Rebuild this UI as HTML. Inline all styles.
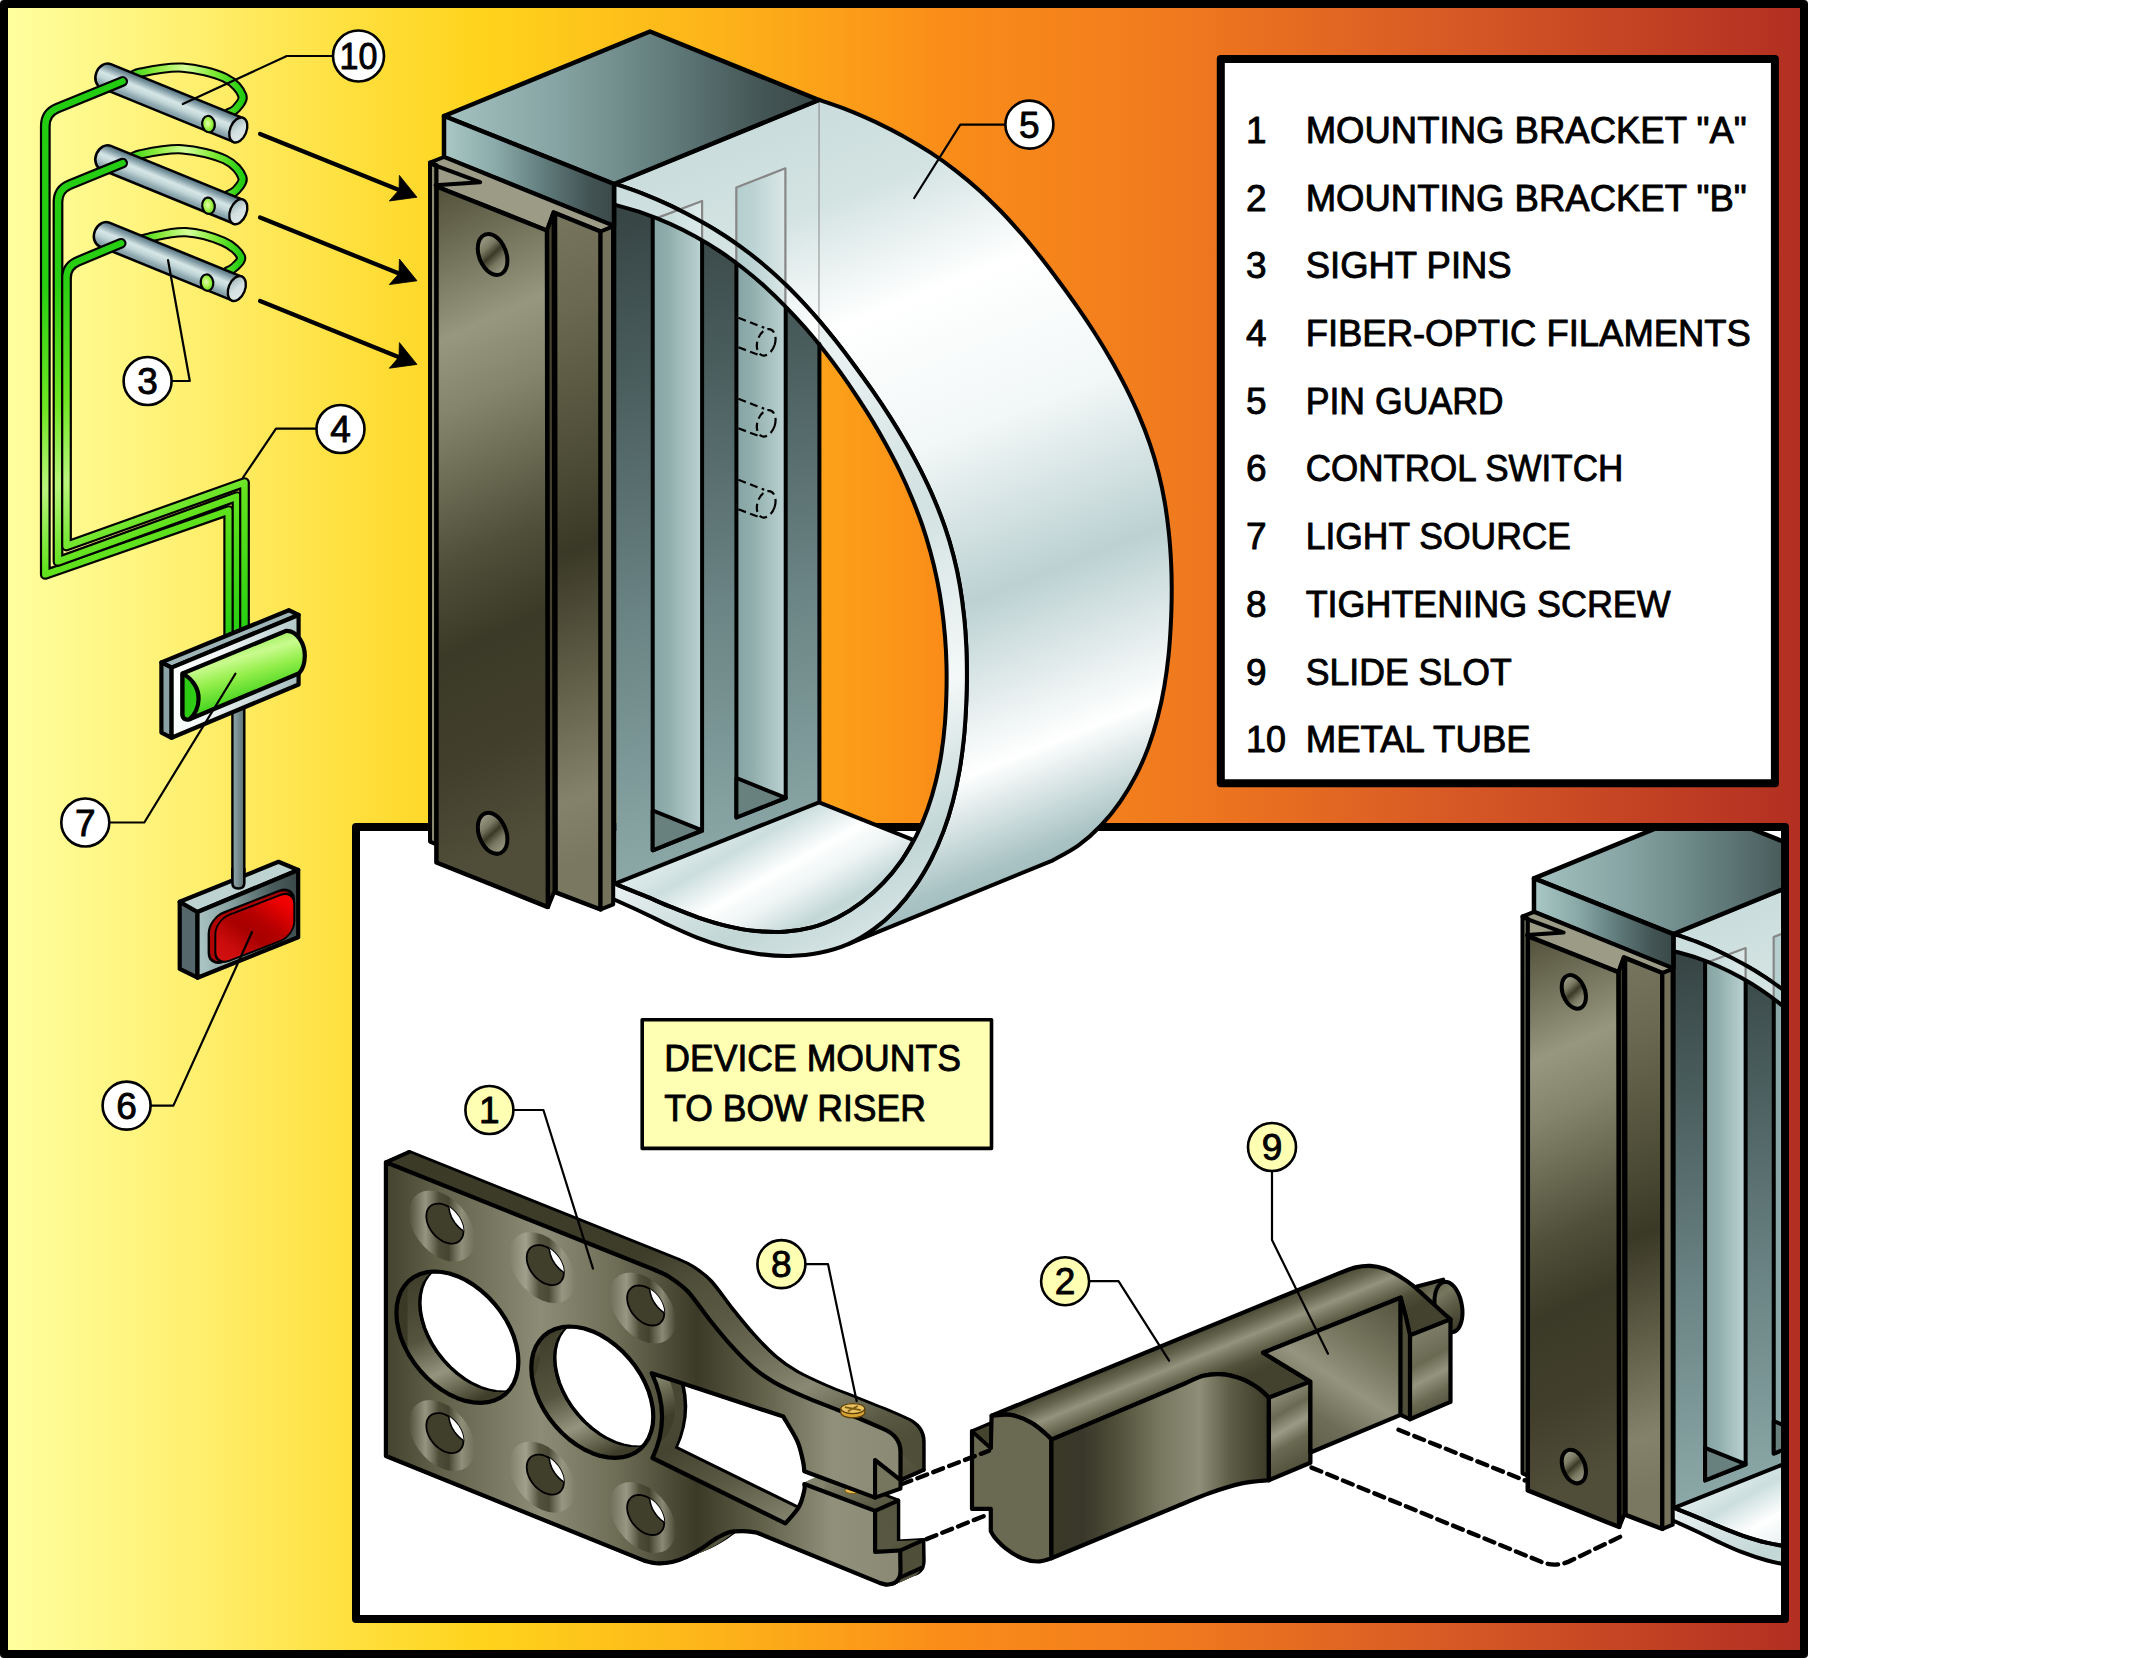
<!DOCTYPE html>
<html><head><meta charset="utf-8"><title>Bow sight illustration</title>
<style>
html,body{margin:0;padding:0;background:#fff;}
body{width:2134px;height:1659px;overflow:hidden;}
svg{display:block;position:absolute;left:0;top:0;}
#asm *{vector-effect:non-scaling-stroke;}
text{font-family:"Liberation Sans",sans-serif;fill:#000;stroke:#000;stroke-width:0.9px;stroke-linejoin:round;}
</style></head><body>
<svg width="2134" height="1659" viewBox="0 0 2134 1659">
<defs>
<linearGradient id="bg" x1="8" y1="0" x2="1800" y2="0" gradientUnits="userSpaceOnUse" ><stop offset="0" stop-color="#FFFF9F"/><stop offset="0.1" stop-color="#FFF071"/><stop offset="0.19" stop-color="#FFE03E"/><stop offset="0.265" stop-color="#FFD31C"/><stop offset="0.4" stop-color="#FDB219"/><stop offset="0.52" stop-color="#FA8D18"/><stop offset="0.65" stop-color="#F07A1E"/><stop offset="0.8" stop-color="#D85A25"/><stop offset="1" stop-color="#B22F22"/></linearGradient>
<linearGradient id="gTube" x1="0" y1="-13" x2="0" y2="13" gradientUnits="userSpaceOnUse" ><stop offset="0" stop-color="#4E6976"/><stop offset="0.12" stop-color="#6F8C97"/><stop offset="0.42" stop-color="#D6E6E6"/><stop offset="0.6" stop-color="#C3D7D8"/><stop offset="0.85" stop-color="#8BA6AE"/><stop offset="1" stop-color="#7A96A0"/></linearGradient>
<linearGradient id="gTubeEnd" x1="0" y1="0" x2="1" y2="1" ><stop offset="0" stop-color="#8FA7AC"/><stop offset="0.5" stop-color="#D3E0E0"/><stop offset="1" stop-color="#E4ECEB"/></linearGradient>
<radialGradient id="gDot" cx="0.45" cy="0.45" r="0.6"><stop offset="0" stop-color="#E4FFB0"/><stop offset="0.5" stop-color="#A6F24A"/><stop offset="1" stop-color="#4FD81C"/></radialGradient>
<linearGradient id="gLoop" x1="0" y1="0" x2="1" y2="0" ><stop offset="0" stop-color="#2FD015"/><stop offset="0.25" stop-color="#8CEB3C"/><stop offset="0.5" stop-color="#D5FF9A"/><stop offset="0.75" stop-color="#7FE934"/><stop offset="1" stop-color="#22CC11"/></linearGradient>
<linearGradient id="gFib" x1="40" y1="100" x2="250" y2="640" gradientUnits="userSpaceOnUse" ><stop offset="0" stop-color="#22CC11"/><stop offset="0.3" stop-color="#27CE12"/><stop offset="0.5" stop-color="#6FE622"/><stop offset="0.63" stop-color="#B9F57C"/><stop offset="0.76" stop-color="#62E21D"/><stop offset="1" stop-color="#22CC11"/></linearGradient>
<linearGradient id="gCyl" x1="0" y1="0" x2="0.4" y2="1" ><stop offset="0" stop-color="#3CD21C"/><stop offset="0.18" stop-color="#7FE838"/><stop offset="0.42" stop-color="#C9FB8E"/><stop offset="0.6" stop-color="#93EE4A"/><stop offset="0.85" stop-color="#45D41F"/><stop offset="1" stop-color="#2BCB14"/></linearGradient>
<linearGradient id="gPlate" x1="172" y1="667" x2="300" y2="700" gradientUnits="userSpaceOnUse" ><stop offset="0" stop-color="#FFFFFF"/><stop offset="0.35" stop-color="#F1F6F6"/><stop offset="0.7" stop-color="#C5D6D7"/><stop offset="1" stop-color="#9FB7B9"/></linearGradient>
<linearGradient id="gRod" x1="232" y1="0" x2="245" y2="0" gradientUnits="userSpaceOnUse" ><stop offset="0" stop-color="#93A7AA"/><stop offset="0.4" stop-color="#7D9396"/><stop offset="1" stop-color="#566A6C"/></linearGradient>
<linearGradient id="gSwF" x1="197" y1="912" x2="298" y2="900" gradientUnits="userSpaceOnUse" ><stop offset="0" stop-color="#A9C3C2"/><stop offset="0.35" stop-color="#84A09F"/><stop offset="0.75" stop-color="#4C5E5E"/><stop offset="1" stop-color="#3B4949"/></linearGradient>
<linearGradient id="gRed" x1="8" y1="62" x2="84" y2="-6" gradientUnits="userSpaceOnUse" ><stop offset="0" stop-color="#D81414"/><stop offset="0.25" stop-color="#CC0C0C"/><stop offset="0.45" stop-color="#A80000"/><stop offset="0.58" stop-color="#B40000"/><stop offset="0.8" stop-color="#F00202"/><stop offset="1" stop-color="#FF0606"/></linearGradient>
<linearGradient id="gOuter" x1="614" y1="184" x2="910" y2="928" gradientUnits="userSpaceOnUse" ><stop offset="0" stop-color="#CADDDC"/><stop offset="0.12" stop-color="#D3E3E2"/><stop offset="0.27" stop-color="#FFFFFF"/><stop offset="0.45" stop-color="#F2F7F7"/><stop offset="0.65" stop-color="#BCD1D2"/><stop offset="0.85" stop-color="#FFFFFF"/><stop offset="0.97" stop-color="#A9C3C4"/><stop offset="1" stop-color="#A2BDBE"/></linearGradient>
<linearGradient id="gRim" x1="614" y1="184" x2="1004.6" y2="939.4" gradientUnits="userSpaceOnUse" ><stop offset="0" stop-color="#D9E7E6"/><stop offset="0.3" stop-color="#E9F1F1"/><stop offset="0.5" stop-color="#D2E1E1"/><stop offset="0.7" stop-color="#F4F8F8"/><stop offset="0.85" stop-color="#C2D6D6"/><stop offset="1" stop-color="#E9F1F1"/></linearGradient>
<linearGradient id="gFloor" x1="748.5" y1="807" x2="826.9" y2="946.2" gradientUnits="userSpaceOnUse" ><stop offset="0" stop-color="#E1ECEC"/><stop offset="0.2" stop-color="#CCDEDE"/><stop offset="0.44" stop-color="#FFFFFF"/><stop offset="0.6" stop-color="#EEF4F4"/><stop offset="0.81" stop-color="#C3D7D7"/><stop offset="1" stop-color="#D7E4E4"/></linearGradient>
<linearGradient id="gFace" x1="640" y1="200" x2="760" y2="880" gradientUnits="userSpaceOnUse" ><stop offset="0" stop-color="#364443"/><stop offset="0.25" stop-color="#4A5D5D"/><stop offset="0.6" stop-color="#6B8485"/><stop offset="1" stop-color="#8EABAA"/></linearGradient>
<linearGradient id="gSlot1" x1="652.7" y1="0" x2="702.1" y2="0" gradientUnits="userSpaceOnUse" ><stop offset="0" stop-color="#86A4A4"/><stop offset="0.3" stop-color="#8FADAC"/><stop offset="1" stop-color="#BCD3D2"/></linearGradient>
<linearGradient id="gSlot2" x1="736.4" y1="0" x2="785.7" y2="0" gradientUnits="userSpaceOnUse" ><stop offset="0" stop-color="#86A4A4"/><stop offset="0.3" stop-color="#8FADAC"/><stop offset="1" stop-color="#BCD3D2"/></linearGradient>
<linearGradient id="gGhost2" x1="736.4" y1="0" x2="785.7" y2="0" gradientUnits="userSpaceOnUse" ><stop offset="0" stop-color="#B4CECE"/><stop offset="0.3" stop-color="#BAD2D2"/><stop offset="1" stop-color="#DBE8E7"/></linearGradient>
<linearGradient id="gTop" x1="444" y1="0" x2="819" y2="0" gradientUnits="userSpaceOnUse" ><stop offset="0" stop-color="#A3C2C0"/><stop offset="0.3" stop-color="#86A4A3"/><stop offset="0.6" stop-color="#617B7B"/><stop offset="0.85" stop-color="#445555"/><stop offset="1" stop-color="#3A4948"/></linearGradient>
<linearGradient id="gSlab" x1="444" y1="0" x2="614" y2="0" gradientUnits="userSpaceOnUse" ><stop offset="0" stop-color="#A9C8C6"/><stop offset="0.3" stop-color="#8BABAA"/><stop offset="0.6" stop-color="#5F7A7B"/><stop offset="0.85" stop-color="#435454"/><stop offset="1" stop-color="#3A4948"/></linearGradient>
<linearGradient id="gBrFace" x1="440" y1="190" x2="700" y2="760" gradientUnits="userSpaceOnUse" ><stop offset="0" stop-color="#55533B"/><stop offset="0.08" stop-color="#6B6A53"/><stop offset="0.22" stop-color="#97977F"/><stop offset="0.33" stop-color="#84836B"/><stop offset="0.55" stop-color="#504F39"/><stop offset="0.68" stop-color="#3B3A28"/><stop offset="0.84" stop-color="#413F2C"/><stop offset="1" stop-color="#504E38"/></linearGradient>
<linearGradient id="gRail" x1="556" y1="215" x2="760" y2="800" gradientUnits="userSpaceOnUse" ><stop offset="0" stop-color="#77755E"/><stop offset="0.15" stop-color="#6A6850"/><stop offset="0.4" stop-color="#4B4A34"/><stop offset="0.52" stop-color="#3A3927"/><stop offset="0.7" stop-color="#5D5B44"/><stop offset="0.9" stop-color="#84826B"/><stop offset="1" stop-color="#7A7861"/></linearGradient>
<linearGradient id="gHole" x1="0" y1="0" x2="1" y2="1" ><stop offset="0" stop-color="#B9B9A6"/><stop offset="0.35" stop-color="#7A7962"/><stop offset="0.5" stop-color="#3B3A28"/><stop offset="0.65" stop-color="#77765F"/><stop offset="1" stop-color="#B5B5A1"/></linearGradient>
<clipPath id="cFace"><path d="M614.3,204.7 C619.1,206.1 633.6,209.9 642.9,213.1 C652.2,216.3 661.3,219.9 670.1,223.8 C678.9,227.7 687.5,232.1 695.8,236.7 C704.1,241.3 712.2,246.2 720.1,251.5 C728,256.8 735.7,262.4 743.1,268.2 C750.5,274 757.8,280.1 764.8,286.5 C771.8,292.9 778.6,299.5 785.3,306.3 C792,313.1 799.1,320.9 804.8,327.3 C810.5,333.7 817,342 819.4,344.9 L819.4,802.2 L616.4,883.1 Z"/></clipPath>
<clipPath id="cAbove"><path d="M614.3,204.7 C619.1,206.1 633.6,209.9 642.9,213.1 C652.2,216.3 661.3,219.9 670.1,223.8 C678.9,227.7 687.5,232.1 695.8,236.7 C704.1,241.3 712.2,246.2 720.1,251.5 C728,256.8 735.7,262.4 743.1,268.2 C750.5,274 757.8,280.1 764.8,286.5 C771.8,292.9 778.6,299.5 785.3,306.3 C792,313.1 799.1,320.9 804.8,327.3 C810.5,333.7 817,342 819.4,344.9 L819.6,80 L600,80 L600,204.7 Z"/></clipPath>
<linearGradient id="gGhost1" x1="652.7" y1="0" x2="702.1" y2="0" gradientUnits="userSpaceOnUse" ><stop offset="0" stop-color="#C3D9D9"/><stop offset="0.4" stop-color="#CCDFDF"/><stop offset="1" stop-color="#DEEAEA"/></linearGradient>
<linearGradient id="gA" x1="385" y1="0" x2="905" y2="0" gradientUnits="userSpaceOnUse" ><stop offset="0" stop-color="#43422E"/><stop offset="0.09" stop-color="#5E5D46"/><stop offset="0.3" stop-color="#8D8D77"/><stop offset="0.45" stop-color="#6D6C55"/><stop offset="0.6" stop-color="#3B3A27"/><stop offset="0.72" stop-color="#605F48"/><stop offset="0.86" stop-color="#90907B"/><stop offset="1" stop-color="#898974"/></linearGradient>
<linearGradient id="gAwall" x1="385" y1="0" x2="930" y2="0" gradientUnits="userSpaceOnUse" ><stop offset="0" stop-color="#3B3A27"/><stop offset="0.45" stop-color="#3E3D2A"/><stop offset="0.6" stop-color="#5A5943"/><stop offset="0.75" stop-color="#8A8A74"/><stop offset="0.88" stop-color="#5B5A44"/><stop offset="1" stop-color="#45442F"/></linearGradient>
<linearGradient id="gAhole" x1="0" y1="0" x2="1" y2="1" ><stop offset="0" stop-color="#3B3A27"/><stop offset="0.35" stop-color="#55543D"/><stop offset="0.6" stop-color="#8E8E78"/><stop offset="0.8" stop-color="#6A6952"/><stop offset="1" stop-color="#3B3A27"/></linearGradient>
<radialGradient id="gCs" cx="0.5" cy="0.5" r="0.5"><stop offset="0" stop-color="#4A4934"/><stop offset="0.55" stop-color="#6C6B54" stop-opacity="0.95"/><stop offset="0.8" stop-color="#A0A08C" stop-opacity="0.7"/><stop offset="1" stop-color="#8A8A74" stop-opacity="0"/></radialGradient>
<linearGradient id="gCs2" x1="0" y1="0" x2="1" y2="0" ><stop offset="0" stop-color="#A5A592" stop-opacity="0.0"/><stop offset="0.25" stop-color="#A8A895" stop-opacity="0.75"/><stop offset="0.45" stop-color="#4C4B36" stop-opacity="0.9"/><stop offset="0.6" stop-color="#3F3E2B" stop-opacity="0.85"/><stop offset="0.8" stop-color="#9C9C88" stop-opacity="0.75"/><stop offset="1" stop-color="#9C9C88" stop-opacity="0"/></linearGradient>
<path id="brAo" d="M385.9,1162.3 L655,1270 C657.4,1271.1 663.6,1273.2 669.1,1276.8 C674.6,1280.4 681.1,1284.3 687.9,1291.5 C694.6,1298.7 702.4,1310.7 709.6,1319.7 C716.8,1328.7 724.1,1337.8 731.3,1345.7 C738.5,1353.7 745.8,1361.2 753,1367.4 C760.2,1373.6 766.3,1377.8 774.7,1382.6 C783.1,1387.4 794,1392.2 803.6,1396.4 C813.2,1400.6 822.9,1404.1 832.5,1407.9 C842.1,1411.8 853,1416 861.5,1419.5 C870,1423 879.6,1427.3 883.2,1428.9 C892,1432.5 900.5,1439 900.5,1452 L900.5,1480.2 L875.1,1460.2 L875.1,1497.6 L804.3,1471.3 C804.1,1469.5 804.1,1465.8 802.9,1460.8 C801.7,1455.8 800.6,1448.5 797.3,1441.1 C794,1433.7 785.6,1420.7 783.3,1416.6 L651.7,1373.2 Q672,1416 652.5,1458 L785.4,1523.3 C787.6,1520.6 795.6,1512.7 798.7,1507.2 C801.9,1501.7 803.4,1494.2 804.3,1490.3 C805.2,1486.4 804.3,1485 804.3,1484 L875.1,1510.9 L875.1,1551.9 L900.2,1550.5 L900.5,1571 C900.5,1580 895,1585 886,1584.6 L880.2,1583.1 L756.5,1532.5 C754.2,1532.3 747.2,1531.1 742.5,1531.1 C737.8,1531.1 733.1,1531.1 728.4,1532.5 C723.7,1533.9 719.1,1536.7 714.4,1539.5 C709.7,1542.3 705,1546.4 700.3,1549.3 C695.6,1552.2 690.9,1555 686.2,1557.1 C681.5,1559.2 676.9,1561 672.2,1562 C667.5,1563 662.8,1563.6 658.1,1563.4 C653.4,1563.2 646.4,1561.1 644.1,1560.6 L385.9,1456 Z M518.4,1361.6 L517.9,1369.4 L516.3,1376.6 L513.8,1383.1 L510.2,1388.8 L505.8,1393.7 L500.5,1397.6 L494.5,1400.4 L487.9,1402.2 L480.7,1402.9 L473.2,1402.4 L465.4,1400.9 L457.4,1398.2 L449.4,1394.5 L441.6,1389.8 L434.1,1384.2 L426.9,1377.8 L420.3,1370.7 L414.3,1363.1 L409,1355 L404.6,1346.6 L401,1338 L398.5,1329.4 L396.9,1321 L396.4,1312.8 L396.9,1305 L398.5,1297.8 L401,1291.3 L404.6,1285.6 L409,1280.7 L414.3,1276.8 L420.3,1274 L426.9,1272.2 L434.1,1271.5 L441.6,1272 L449.4,1273.5 L457.4,1276.2 L465.4,1279.9 L473.2,1284.6 L480.7,1290.2 L487.9,1296.6 L494.5,1303.7 L500.5,1311.3 L505.8,1319.4 L510.2,1327.8 L513.8,1336.4 L516.3,1345 L517.9,1353.4 Z M653.3,1416.6 L652.8,1424.4 L651.2,1431.6 L648.7,1438.1 L645.1,1443.8 L640.7,1448.7 L635.4,1452.6 L629.4,1455.4 L622.8,1457.2 L615.6,1457.9 L608.1,1457.4 L600.3,1455.9 L592.3,1453.2 L584.3,1449.5 L576.5,1444.8 L569,1439.2 L561.8,1432.8 L555.2,1425.7 L549.2,1418.1 L543.9,1410 L539.5,1401.6 L535.9,1393 L533.4,1384.4 L531.8,1376 L531.3,1367.8 L531.8,1360 L533.4,1352.8 L535.9,1346.3 L539.5,1340.6 L543.9,1335.7 L549.2,1331.8 L555.2,1329 L561.8,1327.2 L569,1326.5 L576.5,1327 L584.3,1328.5 L592.3,1331.2 L600.3,1334.9 L608.1,1339.6 L615.6,1345.2 L622.8,1351.6 L629.4,1358.7 L635.4,1366.3 L640.7,1374.4 L645.1,1382.8 L648.7,1391.4 L651.2,1400 L652.8,1408.4 Z" fill-rule="evenodd"/>
<path id="brAout" d="M385.9,1162.3 L655,1270 C657.4,1271.1 663.6,1273.2 669.1,1276.8 C674.6,1280.4 681.1,1284.3 687.9,1291.5 C694.6,1298.7 702.4,1310.7 709.6,1319.7 C716.8,1328.7 724.1,1337.8 731.3,1345.7 C738.5,1353.7 745.8,1361.2 753,1367.4 C760.2,1373.6 766.3,1377.8 774.7,1382.6 C783.1,1387.4 794,1392.2 803.6,1396.4 C813.2,1400.6 822.9,1404.1 832.5,1407.9 C842.1,1411.8 853,1416 861.5,1419.5 C870,1423 879.6,1427.3 883.2,1428.9 C892,1432.5 900.5,1439 900.5,1452 L900.5,1480.2 L875.1,1460.2 L875.1,1497.6 L804.3,1471.3 C804.1,1469.5 804.1,1465.8 802.9,1460.8 C801.7,1455.8 800.6,1448.5 797.3,1441.1 C794,1433.7 785.6,1420.7 783.3,1416.6 L651.7,1373.2 Q672,1416 652.5,1458 L785.4,1523.3 C787.6,1520.6 795.6,1512.7 798.7,1507.2 C801.9,1501.7 803.4,1494.2 804.3,1490.3 C805.2,1486.4 804.3,1485 804.3,1484 L875.1,1510.9 L875.1,1551.9 L900.2,1550.5 L900.5,1571 C900.5,1580 895,1585 886,1584.6 L880.2,1583.1 L756.5,1532.5 C754.2,1532.3 747.2,1531.1 742.5,1531.1 C737.8,1531.1 733.1,1531.1 728.4,1532.5 C723.7,1533.9 719.1,1536.7 714.4,1539.5 C709.7,1542.3 705,1546.4 700.3,1549.3 C695.6,1552.2 690.9,1555 686.2,1557.1 C681.5,1559.2 676.9,1561 672.2,1562 C667.5,1563 662.8,1563.6 658.1,1563.4 C653.4,1563.2 646.4,1561.1 644.1,1560.6 L385.9,1456 Z"/>
<path id="brAh0" d="M518.4,1361.6 L517.9,1369.4 L516.3,1376.6 L513.8,1383.1 L510.2,1388.8 L505.8,1393.7 L500.5,1397.6 L494.5,1400.4 L487.9,1402.2 L480.7,1402.9 L473.2,1402.4 L465.4,1400.9 L457.4,1398.2 L449.4,1394.5 L441.6,1389.8 L434.1,1384.2 L426.9,1377.8 L420.3,1370.7 L414.3,1363.1 L409,1355 L404.6,1346.6 L401,1338 L398.5,1329.4 L396.9,1321 L396.4,1312.8 L396.9,1305 L398.5,1297.8 L401,1291.3 L404.6,1285.6 L409,1280.7 L414.3,1276.8 L420.3,1274 L426.9,1272.2 L434.1,1271.5 L441.6,1272 L449.4,1273.5 L457.4,1276.2 L465.4,1279.9 L473.2,1284.6 L480.7,1290.2 L487.9,1296.6 L494.5,1303.7 L500.5,1311.3 L505.8,1319.4 L510.2,1327.8 L513.8,1336.4 L516.3,1345 L517.9,1353.4 Z"/><path id="brAh1" d="M653.3,1416.6 L652.8,1424.4 L651.2,1431.6 L648.7,1438.1 L645.1,1443.8 L640.7,1448.7 L635.4,1452.6 L629.4,1455.4 L622.8,1457.2 L615.6,1457.9 L608.1,1457.4 L600.3,1455.9 L592.3,1453.2 L584.3,1449.5 L576.5,1444.8 L569,1439.2 L561.8,1432.8 L555.2,1425.7 L549.2,1418.1 L543.9,1410 L539.5,1401.6 L535.9,1393 L533.4,1384.4 L531.8,1376 L531.3,1367.8 L531.8,1360 L533.4,1352.8 L535.9,1346.3 L539.5,1340.6 L543.9,1335.7 L549.2,1331.8 L555.2,1329 L561.8,1327.2 L569,1326.5 L576.5,1327 L584.3,1328.5 L592.3,1331.2 L600.3,1334.9 L608.1,1339.6 L615.6,1345.2 L622.8,1351.6 L629.4,1358.7 L635.4,1366.3 L640.7,1374.4 L645.1,1382.8 L648.7,1391.4 L651.2,1400 L652.8,1408.4 Z"/>
<linearGradient id="gAhw" x1="0" y1="0.1" x2="0.6" y2="1" ><stop offset="0" stop-color="#3F3E2B"/><stop offset="0.4" stop-color="#55543E"/><stop offset="0.68" stop-color="#95957F"/><stop offset="0.85" stop-color="#66654E"/><stop offset="1" stop-color="#3F3E2B"/></linearGradient>
<clipPath id="cBig0"><path d="M518.4,1361.6 L517.9,1369.4 L516.3,1376.6 L513.8,1383.1 L510.2,1388.8 L505.8,1393.7 L500.5,1397.6 L494.5,1400.4 L487.9,1402.2 L480.7,1402.9 L473.2,1402.4 L465.4,1400.9 L457.4,1398.2 L449.4,1394.5 L441.6,1389.8 L434.1,1384.2 L426.9,1377.8 L420.3,1370.7 L414.3,1363.1 L409,1355 L404.6,1346.6 L401,1338 L398.5,1329.4 L396.9,1321 L396.4,1312.8 L396.9,1305 L398.5,1297.8 L401,1291.3 L404.6,1285.6 L409,1280.7 L414.3,1276.8 L420.3,1274 L426.9,1272.2 L434.1,1271.5 L441.6,1272 L449.4,1273.5 L457.4,1276.2 L465.4,1279.9 L473.2,1284.6 L480.7,1290.2 L487.9,1296.6 L494.5,1303.7 L500.5,1311.3 L505.8,1319.4 L510.2,1327.8 L513.8,1336.4 L516.3,1345 L517.9,1353.4 Z"/></clipPath><clipPath id="cBig1"><path d="M653.3,1416.6 L652.8,1424.4 L651.2,1431.6 L648.7,1438.1 L645.1,1443.8 L640.7,1448.7 L635.4,1452.6 L629.4,1455.4 L622.8,1457.2 L615.6,1457.9 L608.1,1457.4 L600.3,1455.9 L592.3,1453.2 L584.3,1449.5 L576.5,1444.8 L569,1439.2 L561.8,1432.8 L555.2,1425.7 L549.2,1418.1 L543.9,1410 L539.5,1401.6 L535.9,1393 L533.4,1384.4 L531.8,1376 L531.3,1367.8 L531.8,1360 L533.4,1352.8 L535.9,1346.3 L539.5,1340.6 L543.9,1335.7 L549.2,1331.8 L555.2,1329 L561.8,1327.2 L569,1326.5 L576.5,1327 L584.3,1328.5 L592.3,1331.2 L600.3,1334.9 L608.1,1339.6 L615.6,1345.2 L622.8,1351.6 L629.4,1358.7 L635.4,1366.3 L640.7,1374.4 L645.1,1382.8 L648.7,1391.4 L651.2,1400 L652.8,1408.4 Z"/></clipPath>
<linearGradient id="gBtop" x1="1176" y1="1340" x2="1198.8" y2="1395.5" gradientUnits="userSpaceOnUse" ><stop offset="0" stop-color="#4A4934"/><stop offset="0.18" stop-color="#64634C"/><stop offset="0.4" stop-color="#93937E"/><stop offset="0.55" stop-color="#77765F"/><stop offset="0.78" stop-color="#504F39"/><stop offset="1" stop-color="#43422E"/></linearGradient>
<linearGradient id="gBfront" x1="1052" y1="0" x2="1269" y2="0" gradientUnits="userSpaceOnUse" ><stop offset="0" stop-color="#3A3927"/><stop offset="0.14" stop-color="#38372A"/><stop offset="0.3" stop-color="#504F39"/><stop offset="0.5" stop-color="#78775F"/><stop offset="0.68" stop-color="#8E8E79"/><stop offset="0.82" stop-color="#5E5D46"/><stop offset="1" stop-color="#3B3A28"/></linearGradient>
<linearGradient id="gBblk" x1="1269" y1="1400" x2="1309" y2="1470" gradientUnits="userSpaceOnUse" ><stop offset="0" stop-color="#8B8B75"/><stop offset="0.22" stop-color="#6A6952"/><stop offset="0.42" stop-color="#9A9A86"/><stop offset="0.6" stop-color="#6A6952"/><stop offset="1" stop-color="#4A4934"/></linearGradient>
<linearGradient id="gBslot" x1="1290" y1="1470" x2="1400" y2="1300" gradientUnits="userSpaceOnUse" ><stop offset="0" stop-color="#55543E"/><stop offset="0.3" stop-color="#6E6D57"/><stop offset="0.5" stop-color="#94947F"/><stop offset="0.7" stop-color="#77765F"/><stop offset="1" stop-color="#55543E"/></linearGradient>
<linearGradient id="gBrb" x1="1410" y1="1340" x2="1450" y2="1415" gradientUnits="userSpaceOnUse" ><stop offset="0" stop-color="#7D7C66"/><stop offset="0.3" stop-color="#6A6952"/><stop offset="0.5" stop-color="#95957F"/><stop offset="0.7" stop-color="#6A6952"/><stop offset="1" stop-color="#45442F"/></linearGradient>
<linearGradient id="gBpin" x1="1425" y1="1280" x2="1460" y2="1330" gradientUnits="userSpaceOnUse" ><stop offset="0" stop-color="#55543E"/><stop offset="0.35" stop-color="#77765F"/><stop offset="0.6" stop-color="#5B5A44"/><stop offset="1" stop-color="#3B3A28"/></linearGradient>

</defs>
<rect x="4" y="4" width="1800" height="1650" fill="url(#bg)" stroke="#000" stroke-width="8" stroke-linejoin="round"/>
<rect x="1220.8" y="58.9" width="554.1" height="724.4" fill="#fff" stroke="#000" stroke-width="8" stroke-linejoin="round"/>
<text x="1246" y="143" font-size="37">1</text><text x="1305.7" y="143" font-size="37" textLength="441.1" lengthAdjust="spacingAndGlyphs">MOUNTING BRACKET &quot;A&quot;</text>
<text x="1246" y="210.9" font-size="37">2</text><text x="1305.7" y="210.9" font-size="37" textLength="441.1" lengthAdjust="spacingAndGlyphs">MOUNTING BRACKET &quot;B&quot;</text>
<text x="1246" y="278.3" font-size="37">3</text><text x="1305.7" y="278.3" font-size="37" textLength="206" lengthAdjust="spacingAndGlyphs">SIGHT PINS</text>
<text x="1246" y="346.3" font-size="37">4</text><text x="1305.7" y="346.3" font-size="37" textLength="445.2" lengthAdjust="spacingAndGlyphs">FIBER-OPTIC FILAMENTS</text>
<text x="1246" y="413.7" font-size="37">5</text><text x="1305.7" y="413.7" font-size="37" textLength="197.9" lengthAdjust="spacingAndGlyphs">PIN GUARD</text>
<text x="1246" y="481.2" font-size="37">6</text><text x="1305.7" y="481.2" font-size="37" textLength="317.5" lengthAdjust="spacingAndGlyphs">CONTROL SWITCH</text>
<text x="1246" y="549.1" font-size="37">7</text><text x="1305.7" y="549.1" font-size="37" textLength="265.3" lengthAdjust="spacingAndGlyphs">LIGHT SOURCE</text>
<text x="1246" y="617" font-size="37">8</text><text x="1305.7" y="617" font-size="37" textLength="365" lengthAdjust="spacingAndGlyphs">TIGHTENING SCREW</text>
<text x="1246" y="684.5" font-size="37">9</text><text x="1305.7" y="684.5" font-size="37" textLength="206" lengthAdjust="spacingAndGlyphs">SLIDE SLOT</text>
<text x="1246" y="752.2" font-size="37" textLength="40" lengthAdjust="spacingAndGlyphs">10</text><text x="1305.7" y="752.2" font-size="37" textLength="225" lengthAdjust="spacingAndGlyphs">METAL TUBE</text>
<rect x="356" y="827" width="1429" height="792" fill="#fff" stroke="#000" stroke-width="8" stroke-linejoin="round"/>
<g transform="translate(0,0)">
<path d="M128.0,79 C130.1,77.9 131.4,74.5 140.5,72.6 C149.6,70.7 168.2,66.7 182.3,67.6 C196.4,68.5 214.9,73.1 224.9,77.8 C234.9,82.5 240.5,90.4 242.3,95.5 C244.2,100.6 238.4,105.6 236,108.6 C233.6,111.6 229.3,112.7 228,113.5" fill="none" stroke="#000" stroke-width="10.2" stroke-linejoin="round" stroke-linecap="round" stroke-linecap="butt"/>
<path d="M128.0,79 C130.1,77.9 131.4,74.5 140.5,72.6 C149.6,70.7 168.2,66.7 182.3,67.6 C196.4,68.5 214.9,73.1 224.9,77.8 C234.9,82.5 240.5,90.4 242.3,95.5 C244.2,100.6 238.4,105.6 236,108.6 C233.6,111.6 229.3,112.7 228,113.5" fill="none" stroke="url(#gLoop)" stroke-width="6.2" stroke-linejoin="round" stroke-linecap="round" stroke-linecap="butt"/>
<g transform="translate(106,76) rotate(22.2)"><path d="M0,-12.8 L142.9,-12.8 L142.9,12.8 L0,12.8 A10.240000000000002,12.8 0 0 1 0,-12.8 Z" fill="url(#gTube)" stroke="#000" stroke-width="2.6" stroke-linejoin="round"/></g>
<ellipse cx="238.3" cy="130.0" rx="8.2" ry="13.100000000000001" transform="rotate(22.2 238.3 130.0)" fill="url(#gTubeEnd)" stroke="#000" stroke-width="2.4"/>
<ellipse cx="208.5" cy="124.1" rx="6.3" ry="8.2" transform="rotate(-8 208.5 124.1)" fill="url(#gDot)" stroke="#000" stroke-width="2.2"/>
</g>
<g transform="translate(0,81.7)">
<path d="M128.0,79 C130.1,77.9 131.4,74.5 140.5,72.6 C149.6,70.7 168.2,66.7 182.3,67.6 C196.4,68.5 214.9,73.1 224.9,77.8 C234.9,82.5 240.5,90.4 242.3,95.5 C244.2,100.6 238.4,105.6 236,108.6 C233.6,111.6 229.3,112.7 228,113.5" fill="none" stroke="#000" stroke-width="10.2" stroke-linejoin="round" stroke-linecap="round" stroke-linecap="butt"/>
<path d="M128.0,79 C130.1,77.9 131.4,74.5 140.5,72.6 C149.6,70.7 168.2,66.7 182.3,67.6 C196.4,68.5 214.9,73.1 224.9,77.8 C234.9,82.5 240.5,90.4 242.3,95.5 C244.2,100.6 238.4,105.6 236,108.6 C233.6,111.6 229.3,112.7 228,113.5" fill="none" stroke="url(#gLoop)" stroke-width="6.2" stroke-linejoin="round" stroke-linecap="round" stroke-linecap="butt"/>
<g transform="translate(106,76) rotate(22.2)"><path d="M0,-12.8 L142.9,-12.8 L142.9,12.8 L0,12.8 A10.240000000000002,12.8 0 0 1 0,-12.8 Z" fill="url(#gTube)" stroke="#000" stroke-width="2.6" stroke-linejoin="round"/></g>
<ellipse cx="238.3" cy="130.0" rx="8.2" ry="13.100000000000001" transform="rotate(22.2 238.3 130.0)" fill="url(#gTubeEnd)" stroke="#000" stroke-width="2.4"/>
<ellipse cx="208.5" cy="124.1" rx="6.3" ry="8.2" transform="rotate(-8 208.5 124.1)" fill="url(#gDot)" stroke="#000" stroke-width="2.2"/>
</g>
<g transform="translate(-1.5,158.5)">
<path d="M137.6,83.2 C139.7,82.5 141.8,80.8 150.1,79.2 C158.3,77.6 174.6,72.9 187.1,73.6 C199.6,74.3 215.7,79.2 224.9,83.2 C234.1,87.2 240.5,93.7 242.3,97.9 C244.2,102.1 238.4,106 236,108.6 C233.6,111.2 229.3,112.7 228,113.5" fill="none" stroke="#000" stroke-width="10.2" stroke-linejoin="round" stroke-linecap="round" stroke-linecap="butt"/>
<path d="M137.6,83.2 C139.7,82.5 141.8,80.8 150.1,79.2 C158.3,77.6 174.6,72.9 187.1,73.6 C199.6,74.3 215.7,79.2 224.9,83.2 C234.1,87.2 240.5,93.7 242.3,97.9 C244.2,102.1 238.4,106 236,108.6 C233.6,111.2 229.3,112.7 228,113.5" fill="none" stroke="url(#gLoop)" stroke-width="6.2" stroke-linejoin="round" stroke-linecap="round" stroke-linecap="butt"/>
<g transform="translate(106,76) rotate(22.2)"><path d="M0,-12.8 L142.9,-12.8 L142.9,12.8 L0,12.8 A10.240000000000002,12.8 0 0 1 0,-12.8 Z" fill="url(#gTube)" stroke="#000" stroke-width="2.6" stroke-linejoin="round"/></g>
<ellipse cx="238.3" cy="130.0" rx="8.2" ry="13.100000000000001" transform="rotate(22.2 238.3 130.0)" fill="url(#gTubeEnd)" stroke="#000" stroke-width="2.4"/>
<ellipse cx="208.5" cy="124.1" rx="6.3" ry="8.2" transform="rotate(-8 208.5 124.1)" fill="url(#gDot)" stroke="#000" stroke-width="2.2"/>
</g>
<path d="M122.6,81.4 L57,108.3 Q45.3,113.2 45.3,126 L45.3,574.4 L228.7,510.6 L228.7,640" fill="none" stroke="#000" stroke-width="10.8" stroke-linejoin="round" stroke-linecap="round" />
<path d="M122.6,81.4 L57,108.3 Q45.3,113.2 45.3,126 L45.3,574.4 L228.7,510.6 L228.7,640" fill="none" stroke="url(#gFib)" stroke-width="6.4" stroke-linejoin="round" stroke-linecap="round" />
<path d="M122.6,163.1 L69.5,184.8 Q58,189.6 58,202 L58,561.4 L237,496.6 L237,638" fill="none" stroke="#000" stroke-width="10.8" stroke-linejoin="round" stroke-linecap="round" />
<path d="M122.6,163.1 L69.5,184.8 Q58,189.6 58,202 L58,561.4 L237,496.6 L237,638" fill="none" stroke="url(#gFib)" stroke-width="6.4" stroke-linejoin="round" stroke-linecap="round" />
<path d="M121.1,243.3 L78,261.2 Q66.5,266 66.5,278 L66.5,546 L244.5,482.6 L244.5,636" fill="none" stroke="#000" stroke-width="10.8" stroke-linejoin="round" stroke-linecap="round" />
<path d="M121.1,243.3 L78,261.2 Q66.5,266 66.5,278 L66.5,546 L244.5,482.6 L244.5,636" fill="none" stroke="url(#gFib)" stroke-width="6.4" stroke-linejoin="round" stroke-linecap="round" />
<polyline points="260.1,133.9 400.3,190.5" fill="none" stroke="#000" stroke-width="4.3" stroke-linejoin="round" stroke-linecap="round" />
<polygon points="417,197.2 399.4,175.4 399,189.9 389.3,201" fill="#000" stroke="#000" stroke-width="0.8" stroke-linejoin="round" />
<polyline points="260.1,217.5 400.3,274.1" fill="none" stroke="#000" stroke-width="4.3" stroke-linejoin="round" stroke-linecap="round" />
<polygon points="417,280.8 399.4,259 399,273.5 389.3,284.6" fill="#000" stroke="#000" stroke-width="0.8" stroke-linejoin="round" />
<polyline points="260.1,301.1 400.3,357.7" fill="none" stroke="#000" stroke-width="4.3" stroke-linejoin="round" stroke-linecap="round" />
<polygon points="417,364.4 399.4,342.6 399,357.1 389.3,368.2" fill="#000" stroke="#000" stroke-width="0.8" stroke-linejoin="round" />
<path d="M232.4,700 L232.4,883 Q232.4,888.5 238.3,888.5 Q244.3,888.5 244.3,883 L244.3,700 Z" fill="url(#gRod)" stroke="#000" stroke-width="2.4"/>
<polygon points="161.4,662.4 288.8,610.2 298.6,615 171.6,667.6" fill="#9DB5B7" stroke="#000" stroke-width="4.2" stroke-linejoin="round" />
<polygon points="161.4,662.4 171.6,667.6 171.6,737.8 161.4,732.6" fill="#8AA2A5" stroke="#000" stroke-width="4.2" stroke-linejoin="round" />
<polygon points="171.6,667.6 298.6,615 298.6,684.5 171.6,737.8" fill="url(#gPlate)" stroke="#000" stroke-width="4.2" stroke-linejoin="round" />
<path d="M182.5,673.5 L286.5,630.8 C297,630.5 305,644 304.8,656 C304.7,664 302.5,669.5 299.2,673.2 L189.5,719.3 Q182.5,720.5 182.5,714 Z" fill="url(#gCyl)" stroke="#000" stroke-width="4.2" stroke-linejoin="round" stroke-linecap="round" />
<path d="M182.5,673.5 C192,678.5 198.8,688 198.6,699 C198.3,708 195,714.5 189.5,719.3 Q182.5,720.5 182.5,714 Z" fill="#2FCC16" stroke="#000" stroke-width="4.2" stroke-linejoin="round" stroke-linecap="round" />
<polygon points="179.7,901.8 197.5,912 197.5,977.7 179.7,968.9" fill="#55676A" stroke="#000" stroke-width="4.2" stroke-linejoin="round" />
<polygon points="179.7,901.8 278.5,861.8 298.2,870 197.5,912" fill="#BCD3D2" stroke="#000" stroke-width="4.2" stroke-linejoin="round" />
<polygon points="197.5,912 298.2,870 298.2,937.2 197.5,977.7" fill="url(#gSwF)" stroke="#000" stroke-width="4.2" stroke-linejoin="round" />
<path d="M232.4,868 L232.4,883 Q232.4,888.5 238.3,888.5 Q244.3,888.5 244.3,883 L244.3,868" fill="url(#gRod)" stroke="#000" stroke-width="2.6"/>
<g transform="matrix(1 -0.39 0 1 208.8 918.3)"><rect x="0" y="0" width="85" height="49" rx="15" ry="15" fill="#B00404" stroke="#000" stroke-width="2.4"/><rect x="6.5" y="4.5" width="79" height="46" rx="14" ry="14" fill="url(#gRed)" stroke="#000" stroke-width="2"/></g>
<g id="asm"><path d="M614.3,183.6 L819.1,99.8 C823.8,101.5 838,106.1 847.4,109.8 C856.9,113.5 866.4,117.7 875.8,122.1 C885.2,126.6 894.6,131.4 903.7,136.5 C912.8,141.6 921.9,147 930.6,152.7 C939.3,158.4 947.9,164.5 956,170.8 C964.1,177.1 971.9,183.6 979.4,190.4 C986.9,197.2 994.1,204.3 1001.1,211.5 C1008.1,218.7 1014.8,226.2 1021.4,233.8 C1028,241.4 1034.4,249.3 1040.7,257.3 C1047,265.3 1053.1,273.4 1059.2,281.7 C1065.3,290 1071.4,298.4 1077.3,306.9 C1083.2,315.4 1089,324 1094.6,332.8 C1100.2,341.6 1105.6,350.5 1110.8,359.5 C1116,368.5 1120.9,377.7 1125.6,386.9 C1130.2,396.1 1134.7,405.5 1138.7,414.9 C1142.7,424.3 1146.4,433.8 1149.7,443.4 C1153,453 1155.9,462.7 1158.4,472.5 C1160.9,482.3 1163,492.1 1164.7,502.1 C1166.4,512 1167.7,522.1 1168.8,532.2 C1169.9,542.3 1170.6,552.5 1171.1,562.7 C1171.6,572.9 1171.8,583.2 1171.7,593.5 C1171.7,603.8 1171.3,614.3 1170.8,624.7 C1170.3,635.1 1169.6,645.6 1168.5,656 C1167.4,666.4 1166,676.8 1164.2,687.1 C1162.4,697.4 1160.2,707.6 1157.6,717.6 C1155,727.6 1152,737.5 1148.4,747.1 C1144.8,756.7 1140.8,766.1 1136.1,775.2 C1131.4,784.3 1126.1,793.3 1120.3,801.7 C1114.5,810.1 1108,818.2 1101,825.5 C1094,832.8 1086.5,839.6 1078.5,845.4 C1070.5,851.2 1057.2,857.8 1052.9,860.3 L848.1,944.1 C852.4,941.6 865.7,935 873.7,929.2 C881.7,923.4 889.2,916.6 896.2,909.3 C903.2,902 909.6,893.9 915.5,885.5 C921.4,877.1 926.6,868.1 931.3,859 C936,849.9 940,840.5 943.6,830.9 C947.2,821.3 950.2,811.4 952.8,801.4 C955.4,791.4 957.6,781.2 959.4,770.9 C961.2,760.6 962.6,750.2 963.7,739.8 C964.8,729.4 965.5,718.9 966,708.5 C966.5,698.1 966.9,687.6 966.9,677.3 C966.9,667 966.8,656.7 966.3,646.5 C965.8,636.3 965.1,626.1 964,616 C962.9,605.9 961.6,595.9 959.9,585.9 C958.2,575.9 956.1,566.1 953.6,556.3 C951.1,546.5 948.2,536.8 944.9,527.2 C941.6,517.6 937.9,508.1 933.9,498.7 C929.9,489.3 925.4,479.9 920.8,470.7 C916.1,461.5 911.2,452.3 906,443.3 C900.8,434.3 895.4,425.4 889.8,416.6 C884.2,407.8 878.4,399.2 872.5,390.7 C866.6,382.2 860.5,373.8 854.4,365.5 C848.3,357.2 842.2,349.1 835.9,341.1 C829.6,333.1 823.2,325.2 816.6,317.6 C810,310 803.3,302.5 796.3,295.3 C789.3,288.1 782.1,281 774.6,274.2 C767.1,267.4 759.3,260.9 751.2,254.6 C743.1,248.3 734.5,242.2 725.8,236.5 C717.1,230.8 708,225.4 698.9,220.3 C689.8,215.2 680.4,210.4 671,205.9 C661.6,201.4 652.1,197.3 642.6,193.6 C633.1,189.9 619,185.3 614.3,183.6 Z" fill="url(#gOuter)" stroke="#000" stroke-width="4" stroke-linejoin="round" stroke-linecap="round" />
<path d="M614.3,183.6 C619,185.3 633.1,189.9 642.6,193.6 C652.1,197.3 661.6,201.4 671,205.9 C680.4,210.4 689.8,215.2 698.9,220.3 C708,225.4 717.1,230.8 725.8,236.5 C734.5,242.2 743.1,248.3 751.2,254.6 C759.3,260.9 767.1,267.4 774.6,274.2 C782.1,281 789.3,288.1 796.3,295.3 C803.3,302.5 810,310 816.6,317.6 C823.2,325.2 829.6,333.1 835.9,341.1 C842.2,349.1 848.3,357.2 854.4,365.5 C860.5,373.8 866.6,382.2 872.5,390.7 C878.4,399.2 884.2,407.8 889.8,416.6 C895.4,425.4 900.8,434.3 906,443.3 C911.2,452.3 916.1,461.5 920.8,470.7 C925.4,479.9 929.9,489.3 933.9,498.7 C937.9,508.1 941.6,517.6 944.9,527.2 C948.2,536.8 951.1,546.5 953.6,556.3 C956.1,566.1 958.2,575.9 959.9,585.9 C961.6,595.9 962.9,605.9 964,616 C965.1,626.1 965.8,636.3 966.3,646.5 C966.8,656.7 966.9,667 966.9,677.3 C966.9,687.6 966.5,698.1 966,708.5 C965.5,718.9 964.8,729.4 963.7,739.8 C962.6,750.2 961.2,760.6 959.4,770.9 C957.6,781.2 955.4,791.4 952.8,801.4 C950.2,811.4 947.2,821.3 943.6,830.9 C940,840.5 936,849.9 931.3,859 C926.6,868.1 921.4,877.1 915.5,885.5 C909.6,893.9 903.2,902 896.2,909.3 C889.2,916.6 881.7,923.4 873.7,929.2 C865.7,935 857.1,940.2 848.1,944.1 C839.1,948 829.5,950.8 819.7,952.8 C809.9,954.8 799.6,955.7 789.4,955.9 C779.2,956.1 768.6,955.3 758.3,953.9 C748,952.5 737.5,950.3 727.4,947.6 C717.3,944.9 707.3,941.5 697.7,937.8 C688.1,934.1 678.9,929.8 669.6,925.5 C660.3,921.2 651.4,916.5 642.1,912.2 C632.9,907.9 618.8,901.6 614.1,899.5 L609,897.3 L609,881.3 L618.7,885.4 C623.1,887.1 636.1,892.3 644.9,895.9 C653.7,899.5 662.6,903.6 671.6,907.2 C680.6,910.9 689.8,914.6 699.1,917.8 C708.4,920.9 717.9,923.9 727.4,926.1 C736.9,928.3 746.5,930.2 756,931.1 C765.5,932 775,932.4 784.3,931.8 C793.6,931.2 802.9,929.8 811.9,927.4 C820.9,925 829.6,921.4 838,917.2 C846.4,913 854.4,907.8 862,902 C869.6,896.2 876.9,889.7 883.5,882.7 C890.1,875.8 896.2,868.1 901.7,860.3 C907.2,852.4 912.1,844.1 916.4,835.6 C920.7,827.1 924.4,818.2 927.6,809.2 C930.8,800.2 933.5,790.9 935.8,781.5 C938.1,772.1 940,762.5 941.5,752.9 C943,743.3 944.1,733.5 944.9,723.7 C945.7,714 946.1,704.1 946.4,694.4 C946.7,684.7 946.7,674.9 946.5,665.3 C946.3,655.6 945.8,646 945,636.5 C944.2,627 943.2,617.4 941.9,608 C940.6,598.6 939,589.2 937.1,579.9 C935.2,570.6 933,561.4 930.5,552.3 C928,543.1 925.3,534 922.2,525 C919.1,516 915.6,507.1 912,498.3 C908.4,489.5 904.5,480.7 900.3,472 C896.1,463.3 891.6,454.8 887,446.3 C882.4,437.8 877.6,429.4 872.6,421.1 C867.6,412.8 862.3,404.7 857,396.6 C851.7,388.5 846.2,380.5 840.6,372.6 C835,364.8 829.2,357.1 823.2,349.5 C817.2,341.9 811.1,334.5 804.8,327.3 C798.5,320.1 792,313.1 785.3,306.3 C778.6,299.5 771.8,292.9 764.8,286.5 C757.8,280.1 750.5,274 743.1,268.2 C735.7,262.4 728,256.8 720.1,251.5 C712.2,246.2 704.1,241.3 695.8,236.7 C687.5,232.1 678.9,227.7 670.1,223.8 C661.3,219.9 652.2,216.3 642.9,213.1 C633.6,209.9 619.1,206.1 614.3,204.7 Z" fill="url(#gRim)" stroke="none" stroke-width="0" stroke-linejoin="round" stroke-linecap="round" />
<g clip-path="url(#cAbove)"><path d="M614.3,183.6 C619,185.3 633.1,189.9 642.6,193.6 C652.1,197.3 661.6,201.4 671,205.9 C680.4,210.4 689.8,215.2 698.9,220.3 C708,225.4 717.1,230.8 725.8,236.5 C734.5,242.2 743.1,248.3 751.2,254.6 C759.3,260.9 767.1,267.4 774.6,274.2 C782.1,281 789.3,288.1 796.3,295.3 C803.3,302.5 810,310 816.6,317.6 C823.2,325.2 829.6,333.1 835.9,341.1 C842.2,349.1 848.3,357.2 854.4,365.5 C860.5,373.8 866.6,382.2 872.5,390.7 C878.4,399.2 884.2,407.8 889.8,416.6 C895.4,425.4 900.8,434.3 906,443.3 C911.2,452.3 916.1,461.5 920.8,470.7 C925.4,479.9 929.9,489.3 933.9,498.7 C937.9,508.1 941.6,517.6 944.9,527.2 C948.2,536.8 951.1,546.5 953.6,556.3 C956.1,566.1 958.2,575.9 959.9,585.9 C961.6,595.9 962.9,605.9 964,616 C965.1,626.1 965.8,636.3 966.3,646.5 C966.8,656.7 966.9,667 966.9,677.3 C966.9,687.6 966.5,698.1 966,708.5 C965.5,718.9 964.8,729.4 963.7,739.8 C962.6,750.2 961.2,760.6 959.4,770.9 C957.6,781.2 955.4,791.4 952.8,801.4 C950.2,811.4 947.2,821.3 943.6,830.9 C940,840.5 936,849.9 931.3,859 C926.6,868.1 921.4,877.1 915.5,885.5 C909.6,893.9 903.2,902 896.2,909.3 C889.2,916.6 881.7,923.4 873.7,929.2 C865.7,935 857.1,940.2 848.1,944.1 C839.1,948 829.5,950.8 819.7,952.8 C809.9,954.8 799.6,955.7 789.4,955.9 C779.2,956.1 768.6,955.3 758.3,953.9 C748,952.5 737.5,950.3 727.4,947.6 C717.3,944.9 707.3,941.5 697.7,937.8 C688.1,934.1 678.9,929.8 669.6,925.5 C660.3,921.2 651.4,916.5 642.1,912.2 C632.9,907.9 618.8,901.6 614.1,899.5 L609,897.3 L609,881.3 L618.7,885.4 C623.1,887.1 636.1,892.3 644.9,895.9 C653.7,899.5 662.6,903.6 671.6,907.2 C680.6,910.9 689.8,914.6 699.1,917.8 C708.4,920.9 717.9,923.9 727.4,926.1 C736.9,928.3 746.5,930.2 756,931.1 C765.5,932 775,932.4 784.3,931.8 C793.6,931.2 802.9,929.8 811.9,927.4 C820.9,925 829.6,921.4 838,917.2 C846.4,913 854.4,907.8 862,902 C869.6,896.2 876.9,889.7 883.5,882.7 C890.1,875.8 896.2,868.1 901.7,860.3 C907.2,852.4 912.1,844.1 916.4,835.6 C920.7,827.1 924.4,818.2 927.6,809.2 C930.8,800.2 933.5,790.9 935.8,781.5 C938.1,772.1 940,762.5 941.5,752.9 C943,743.3 944.1,733.5 944.9,723.7 C945.7,714 946.1,704.1 946.4,694.4 C946.7,684.7 946.7,674.9 946.5,665.3 C946.3,655.6 945.8,646 945,636.5 C944.2,627 943.2,617.4 941.9,608 C940.6,598.6 939,589.2 937.1,579.9 C935.2,570.6 933,561.4 930.5,552.3 C928,543.1 925.3,534 922.2,525 C919.1,516 915.6,507.1 912,498.3 C908.4,489.5 904.5,480.7 900.3,472 C896.1,463.3 891.6,454.8 887,446.3 C882.4,437.8 877.6,429.4 872.6,421.1 C867.6,412.8 862.3,404.7 857,396.6 C851.7,388.5 846.2,380.5 840.6,372.6 C835,364.8 829.2,357.1 823.2,349.5 C817.2,341.9 811.1,334.5 804.8,327.3 C798.5,320.1 792,313.1 785.3,306.3 C778.6,299.5 771.8,292.9 764.8,286.5 C757.8,280.1 750.5,274 743.1,268.2 C735.7,262.4 728,256.8 720.1,251.5 C712.2,246.2 704.1,241.3 695.8,236.7 C687.5,232.1 678.9,227.7 670.1,223.8 C661.3,219.9 652.2,216.3 642.9,213.1 C633.6,209.9 619.1,206.1 614.3,204.7 Z" fill="url(#gOuter)" stroke="none" stroke-width="0" stroke-linejoin="round" stroke-linecap="round" />
<polygon points="652.7,219.7 702.1,201 702.1,260 652.7,260" fill="url(#gGhost1)" stroke="none"/><polygon points="736.3,187.5 785.4,168.3 785.4,320 736.3,320" fill="url(#gGhost2)" stroke="none"/><polyline points="656,218.4 702.1,201 702.1,260" fill="none" stroke="#878787" stroke-width="2.2" stroke-linejoin="round" stroke-linecap="round" />
<polyline points="736.3,270 736.3,187.5 785.4,168.3 785.4,320" fill="none" stroke="#878787" stroke-width="2.2" stroke-linejoin="round" stroke-linecap="round" />
<polyline points="819.6,101 819.6,345" fill="none" stroke="#878787" stroke-width="2.2" stroke-linejoin="round" stroke-linecap="round" />
</g>
<g clip-path="url(#cFace)">
<rect x="600" y="180" width="240" height="720" fill="url(#gFace)"/>
<polygon points="652.7,180 702.1,180 702.1,830.9 652.7,850.3" fill="url(#gSlot1)" stroke="#000" stroke-width="4" stroke-linejoin="round" />
<polygon points="652.7,810.5 702.1,830.4 652.7,850.3" fill="#68817F" stroke="#000" stroke-width="4" stroke-linejoin="round" />
<polygon points="736.4,180 785.7,180 785.7,798.1 736.4,817.5" fill="url(#gSlot2)" stroke="#000" stroke-width="4" stroke-linejoin="round" />
<polygon points="736.4,778 785.7,797.9 736.4,817.5" fill="#68817F" stroke="#000" stroke-width="4" stroke-linejoin="round" />
</g>
<polyline points="614.3,204 614.3,883" fill="none" stroke="#000" stroke-width="4" stroke-linejoin="round" stroke-linecap="round" />
<polyline points="819.4,344 819.4,802.3" fill="none" stroke="#000" stroke-width="4" stroke-linejoin="round" stroke-linecap="round" />
<path d="M616.4,883.1 L819.1,802.3 L913.7,840.1 C911.7,843.5 906.7,853.2 901.7,860.3 C896.7,867.4 890.1,875.8 883.5,882.7 C876.9,889.7 869.6,896.2 862,902 C854.4,907.8 846.4,913 838,917.2 C829.6,921.4 820.9,925 811.9,927.4 C802.9,929.8 793.6,931.2 784.3,931.8 C775,932.4 765.5,932 756,931.1 C746.5,930.2 736.9,928.3 727.4,926.1 C717.9,923.9 708.4,920.9 699.1,917.8 C689.8,914.6 680.6,910.9 671.6,907.2 C662.6,903.6 653.7,899.5 644.9,895.9 C636.1,892.3 623.1,887.1 618.7,885.4 Z" fill="url(#gFloor)" stroke="#000" stroke-width="4" stroke-linejoin="round" stroke-linecap="round" />
<path d="M614.3,183.6 C619,185.3 633.1,189.9 642.6,193.6 C652.1,197.3 661.6,201.4 671,205.9 C680.4,210.4 689.8,215.2 698.9,220.3 C708,225.4 717.1,230.8 725.8,236.5 C734.5,242.2 743.1,248.3 751.2,254.6 C759.3,260.9 767.1,267.4 774.6,274.2 C782.1,281 789.3,288.1 796.3,295.3 C803.3,302.5 810,310 816.6,317.6 C823.2,325.2 829.6,333.1 835.9,341.1 C842.2,349.1 848.3,357.2 854.4,365.5 C860.5,373.8 866.6,382.2 872.5,390.7 C878.4,399.2 884.2,407.8 889.8,416.6 C895.4,425.4 900.8,434.3 906,443.3 C911.2,452.3 916.1,461.5 920.8,470.7 C925.4,479.9 929.9,489.3 933.9,498.7 C937.9,508.1 941.6,517.6 944.9,527.2 C948.2,536.8 951.1,546.5 953.6,556.3 C956.1,566.1 958.2,575.9 959.9,585.9 C961.6,595.9 962.9,605.9 964,616 C965.1,626.1 965.8,636.3 966.3,646.5 C966.8,656.7 966.9,667 966.9,677.3 C966.9,687.6 966.5,698.1 966,708.5 C965.5,718.9 964.8,729.4 963.7,739.8 C962.6,750.2 961.2,760.6 959.4,770.9 C957.6,781.2 955.4,791.4 952.8,801.4 C950.2,811.4 947.2,821.3 943.6,830.9 C940,840.5 936,849.9 931.3,859 C926.6,868.1 921.4,877.1 915.5,885.5 C909.6,893.9 903.2,902 896.2,909.3 C889.2,916.6 881.7,923.4 873.7,929.2 C865.7,935 857.1,940.2 848.1,944.1 C839.1,948 829.5,950.8 819.7,952.8 C809.9,954.8 799.6,955.7 789.4,955.9 C779.2,956.1 768.6,955.3 758.3,953.9 C748,952.5 737.5,950.3 727.4,947.6 C717.3,944.9 707.3,941.5 697.7,937.8 C688.1,934.1 678.9,929.8 669.6,925.5 C660.3,921.2 651.4,916.5 642.1,912.2 C632.9,907.9 618.8,901.6 614.1,899.5 L609,897.3 L609,881.3 L618.7,885.4 C623.1,887.1 636.1,892.3 644.9,895.9 C653.7,899.5 662.6,903.6 671.6,907.2 C680.6,910.9 689.8,914.6 699.1,917.8 C708.4,920.9 717.9,923.9 727.4,926.1 C736.9,928.3 746.5,930.2 756,931.1 C765.5,932 775,932.4 784.3,931.8 C793.6,931.2 802.9,929.8 811.9,927.4 C820.9,925 829.6,921.4 838,917.2 C846.4,913 854.4,907.8 862,902 C869.6,896.2 876.9,889.7 883.5,882.7 C890.1,875.8 896.2,868.1 901.7,860.3 C907.2,852.4 912.1,844.1 916.4,835.6 C920.7,827.1 924.4,818.2 927.6,809.2 C930.8,800.2 933.5,790.9 935.8,781.5 C938.1,772.1 940,762.5 941.5,752.9 C943,743.3 944.1,733.5 944.9,723.7 C945.7,714 946.1,704.1 946.4,694.4 C946.7,684.7 946.7,674.9 946.5,665.3 C946.3,655.6 945.8,646 945,636.5 C944.2,627 943.2,617.4 941.9,608 C940.6,598.6 939,589.2 937.1,579.9 C935.2,570.6 933,561.4 930.5,552.3 C928,543.1 925.3,534 922.2,525 C919.1,516 915.6,507.1 912,498.3 C908.4,489.5 904.5,480.7 900.3,472 C896.1,463.3 891.6,454.8 887,446.3 C882.4,437.8 877.6,429.4 872.6,421.1 C867.6,412.8 862.3,404.7 857,396.6 C851.7,388.5 846.2,380.5 840.6,372.6 C835,364.8 829.2,357.1 823.2,349.5 C817.2,341.9 811.1,334.5 804.8,327.3 C798.5,320.1 792,313.1 785.3,306.3 C778.6,299.5 771.8,292.9 764.8,286.5 C757.8,280.1 750.5,274 743.1,268.2 C735.7,262.4 728,256.8 720.1,251.5 C712.2,246.2 704.1,241.3 695.8,236.7 C687.5,232.1 678.9,227.7 670.1,223.8 C661.3,219.9 652.2,216.3 642.9,213.1 C633.6,209.9 619.1,206.1 614.3,204.7 Z" fill="none" stroke="#000" stroke-width="4" stroke-linejoin="round" stroke-linecap="round" />
<polygon points="444,116 650,31.5 819,100 614,184" fill="url(#gTop)" stroke="#000" stroke-width="4.5" stroke-linejoin="round" />
<polygon points="444,116 614,184 614,226 444,157" fill="url(#gSlab)" stroke="#000" stroke-width="4.5" stroke-linejoin="round" />
<polygon points="430,162.5 436.5,165.5 436.5,844.4 430,841.6" fill="#8A8972" stroke="#000" stroke-width="4" stroke-linejoin="round" />
<polygon points="430,162.5 444,157 614,226 601,231.5 553.6,212.3 547,230.5 436.5,186.5 436.5,165" fill="#9B9B86" stroke="#000" stroke-width="4" stroke-linejoin="round" />
<polyline points="431,163.8 480.1,182.2 435.5,185.2" fill="none" stroke="#000" stroke-width="4" stroke-linejoin="round" stroke-linecap="round" />
<polygon points="547,230.5 553.6,212.3 554.5,891 548,907" fill="#45432F" stroke="#000" stroke-width="4" stroke-linejoin="round" />
<polygon points="436.5,186.5 547,230.5 547.9,907.1 436.4,862.5" fill="url(#gBrFace)" stroke="#000" stroke-width="4.5" stroke-linejoin="round" />
<polygon points="555,213 600.6,231.5 600.6,909.5 555.6,892.3" fill="url(#gRail)" stroke="#000" stroke-width="4.5" stroke-linejoin="round" />
<polygon points="600.6,231.5 613,226.5 613.2,904.3 600.6,909.5" fill="#74725B" stroke="#000" stroke-width="4" stroke-linejoin="round" />
<ellipse cx="0" cy="0" rx="14.8" ry="19.6" transform="matrix(1 0.405 0 1 492.6 254.5)" fill="url(#gHole)" stroke="#000" stroke-width="4"/>
<ellipse cx="0" cy="0" rx="14.8" ry="19.6" transform="matrix(1 0.405 0 1 492.6 833.3)" fill="url(#gHole)" stroke="#000" stroke-width="4"/>
</g>
<g clip-path="url(#cFace)"><g transform="translate(766.2,342.3)" fill="none" stroke="#000" stroke-width="2.2" stroke-dasharray="8 4.5"><ellipse cx="0" cy="0" rx="8.8" ry="13.6" transform="rotate(18)"/><path d="M-27.8,-24.5 L-2,-14.5 M-27.8,5 L-8,12.5"/></g>
<g transform="translate(766.2,423.3)" fill="none" stroke="#000" stroke-width="2.2" stroke-dasharray="8 4.5"><ellipse cx="0" cy="0" rx="8.8" ry="13.6" transform="rotate(18)"/><path d="M-27.8,-24.5 L-2,-14.5 M-27.8,5 L-8,12.5"/></g>
<g transform="translate(766.2,504.3)" fill="none" stroke="#000" stroke-width="2.2" stroke-dasharray="8 4.5"><ellipse cx="0" cy="0" rx="8.8" ry="13.6" transform="rotate(18)"/><path d="M-27.8,-24.5 L-2,-14.5 M-27.8,5 L-8,12.5"/></g>
</g>
<clipPath id="cBox"><rect x="360" y="831" width="1421" height="784"/></clipPath>
<g clip-path="url(#cBox)"><use href="#asm" transform="translate(1169.9,783.2) scale(0.82)"/></g>
<g id="brB">
<polygon points="1419,1284.5 1443.5,1279.3 1452,1332.5 1425,1338" fill="url(#gBpin)" stroke="#000" stroke-width="0" stroke-linejoin="round" />
<polygon points="1462.5,1312.6 1462.4,1315.8 1462,1318.8 1461.4,1321.6 1460.6,1324.1 1459.6,1326.4 1458.4,1328.4 1457,1329.9 1455.5,1331.1 1453.9,1331.9 1452.1,1332.2 1450.3,1332.1 1448.5,1331.6 1446.7,1330.7 1444.9,1329.3 1443.1,1327.6 1441.5,1325.5 1440,1323.1 1438.6,1320.4 1437.4,1317.5 1436.4,1314.5 1435.6,1311.2 1435,1308 1434.6,1304.7 1434.5,1301.4 1434.6,1298.2 1435,1295.2 1435.6,1292.4 1436.4,1289.9 1437.4,1287.6 1438.6,1285.6 1440,1284.1 1441.5,1282.9 1443.1,1282.1 1444.9,1281.8 1446.7,1281.9 1448.5,1282.4 1450.3,1283.3 1452.1,1284.7 1453.9,1286.4 1455.5,1288.5 1457,1290.9 1458.4,1293.6 1459.6,1296.5 1460.6,1299.5 1461.4,1302.8 1462,1306 1462.4,1309.3" fill="url(#gBpin)" stroke="#000" stroke-width="4" stroke-linejoin="round" />
<polyline points="1417,1286.5 1443.2,1279.6" fill="none" stroke="#000" stroke-width="4" stroke-linejoin="round" stroke-linecap="round" />
<path d="M991.6,1415.7 L1341.3,1272.4 C1343.7,1271.6 1350.9,1268.5 1355.7,1267.4 C1360.5,1266.3 1365.4,1265.7 1370.2,1265.9 C1375,1266.1 1379.9,1267.1 1384.7,1268.8 C1389.5,1270.5 1394.3,1273.1 1399.1,1276 C1403.9,1278.9 1408.8,1282.3 1413.6,1286.2 C1418.4,1290.1 1423.3,1294.9 1428.1,1299.2 C1432.9,1303.5 1438.8,1308.8 1442.5,1312.2 C1446.2,1315.6 1449.2,1318.2 1450.5,1319.4 L1410,1335.4 Q1406,1316 1400.6,1297.7 L1263.1,1352.7 L1310.4,1381.6 L1268.9,1397.6 C1267,1396 1262.2,1390.9 1257.7,1387.8 C1253.2,1384.7 1247.6,1381.2 1241.8,1379 C1236,1376.8 1229.1,1374.8 1222.7,1374.3 C1216.3,1373.8 1209.9,1374.2 1203.5,1375.8 C1197.1,1377.4 1187.6,1382.5 1184.4,1383.8 L1051.4,1439.6 C1050.5,1438.7 1049.1,1436.8 1045.8,1434 C1042.5,1431.2 1037.3,1426 1031.5,1422.8 C1025.7,1419.6 1017.4,1416.1 1010.8,1414.9 C1004.1,1413.7 994.8,1415.6 991.6,1415.7 Z" fill="url(#gBtop)" stroke="#000" stroke-width="4.2" stroke-linejoin="round" stroke-linecap="round" />
<path d="M991.6,1415.7 C994.8,1415.6 1004.1,1413.7 1010.8,1414.9 C1017.4,1416.1 1025.7,1419.6 1031.5,1422.8 C1037.3,1426 1042.5,1431.2 1045.8,1434 C1049.1,1436.8 1050.5,1438.7 1051.4,1439.6 L1051.4,1558.3 C1049.1,1558.8 1042.7,1561.5 1037.8,1561.5 C1032.9,1561.5 1027.2,1560.4 1021.9,1558.3 C1016.6,1556.2 1010.5,1552.2 1006,1548.7 C1001.5,1545.2 997.3,1540.5 994.8,1537.6 C992.3,1534.7 991.5,1532.3 990.8,1531.2 L990.8,1508.9 L972,1508.9 L972,1431 L990.8,1448 Z" fill="#6A6952" stroke="#000" stroke-width="4.2" stroke-linejoin="round" stroke-linecap="round" />
<polygon points="972,1431 990.8,1423 990.8,1448" fill="#45442F" stroke="#000" stroke-width="3.5" stroke-linejoin="round" />
<path d="M1051.4,1439.6 L1184.4,1383.8 C1187.6,1382.5 1197.1,1377.4 1203.5,1375.8 C1209.9,1374.2 1216.3,1373.8 1222.7,1374.3 C1229.1,1374.8 1236,1376.8 1241.8,1379 C1247.6,1381.2 1253.2,1384.7 1257.7,1387.8 C1262.2,1390.9 1267,1396 1268.9,1397.6 L1268.9,1480.2 C1264.4,1480.7 1251.6,1481.3 1241.8,1483.4 C1232,1485.5 1220.5,1489.3 1209.9,1493 C1199.3,1496.7 1183.4,1503.6 1178.1,1505.7 L1051.4,1558.3 Z" fill="url(#gBfront)" stroke="#000" stroke-width="4.2" stroke-linejoin="round" stroke-linecap="round" />
<polygon points="1268.9,1397.6 1310.4,1381.6 1310.4,1462.7 1268.9,1480.2" fill="url(#gBblk)" stroke="#000" stroke-width="4.2" stroke-linejoin="round" />
<polygon points="1263.1,1352.7 1400.6,1297.7 1400.6,1414.9 1310.4,1452.5 1310.4,1381.6" fill="url(#gBslot)" stroke="#000" stroke-width="4.2" stroke-linejoin="round" />
<path d="M1400.6,1297.7 Q1406,1316 1410,1335.4 L1410,1419.3 L1400.6,1414.9 Z" fill="#4F4E38" stroke="#000" stroke-width="4" stroke-linejoin="round" stroke-linecap="round" />
<polygon points="1410,1335.4 1450.5,1319.4 1450.5,1401.9 1410,1419.3" fill="url(#gBrb)" stroke="#000" stroke-width="4.2" stroke-linejoin="round" />
</g>
<polyline points="901.5,1484.3 989,1450.7" fill="none" stroke="#000" stroke-width="4.4" stroke-linejoin="round" stroke-linecap="round" stroke-dasharray="10.5 6.5" stroke-linecap="butt"/>
<polyline points="926.5,1539.1 989,1514" fill="none" stroke="#000" stroke-width="4.4" stroke-linejoin="round" stroke-linecap="round" stroke-dasharray="10.5 6.5" stroke-linecap="butt"/>
<path d="M1311.5,1467.6 L1540,1561.3 Q1556,1568.5 1572,1560 L1624,1535" fill="none" stroke="#000" stroke-width="4.4" stroke-linejoin="round" stroke-linecap="round" stroke-dasharray="10.5 6.5" stroke-linecap="butt"/>
<polyline points="1398.5,1429.8 1524.8,1480.4" fill="none" stroke="#000" stroke-width="4.4" stroke-linejoin="round" stroke-linecap="round" stroke-dasharray="10.5 6.5" stroke-linecap="butt"/>
<g id="brA">
<use href="#brAo" transform="translate(23.1,-10.3)" fill="none" stroke="#000" stroke-width="4.2" stroke-linejoin="round"/>
<g fill="none" stroke-width="3.2" stroke-linejoin="round"><use href="#brAout" transform="translate(0,-0)" stroke="url(#gAwall)"/><use href="#brAh0" transform="translate(0,-0)" stroke="url(#gAhw)"/><use href="#brAh1" transform="translate(0,-0)" stroke="url(#gAhw)"/><use href="#brAout" transform="translate(0.8,-0.3)" stroke="url(#gAwall)"/><use href="#brAh0" transform="translate(0.8,-0.3)" stroke="url(#gAhw)"/><use href="#brAh1" transform="translate(0.8,-0.3)" stroke="url(#gAhw)"/><use href="#brAout" transform="translate(1.5,-0.7)" stroke="url(#gAwall)"/><use href="#brAh0" transform="translate(1.5,-0.7)" stroke="url(#gAhw)"/><use href="#brAh1" transform="translate(1.5,-0.7)" stroke="url(#gAhw)"/><use href="#brAout" transform="translate(2.3,-1)" stroke="url(#gAwall)"/><use href="#brAh0" transform="translate(2.3,-1)" stroke="url(#gAhw)"/><use href="#brAh1" transform="translate(2.3,-1)" stroke="url(#gAhw)"/><use href="#brAout" transform="translate(3.1,-1.4)" stroke="url(#gAwall)"/><use href="#brAh0" transform="translate(3.1,-1.4)" stroke="url(#gAhw)"/><use href="#brAh1" transform="translate(3.1,-1.4)" stroke="url(#gAhw)"/><use href="#brAout" transform="translate(3.9,-1.7)" stroke="url(#gAwall)"/><use href="#brAh0" transform="translate(3.9,-1.7)" stroke="url(#gAhw)"/><use href="#brAh1" transform="translate(3.9,-1.7)" stroke="url(#gAhw)"/><use href="#brAout" transform="translate(4.6,-2.1)" stroke="url(#gAwall)"/><use href="#brAh0" transform="translate(4.6,-2.1)" stroke="url(#gAhw)"/><use href="#brAh1" transform="translate(4.6,-2.1)" stroke="url(#gAhw)"/><use href="#brAout" transform="translate(5.4,-2.4)" stroke="url(#gAwall)"/><use href="#brAh0" transform="translate(5.4,-2.4)" stroke="url(#gAhw)"/><use href="#brAh1" transform="translate(5.4,-2.4)" stroke="url(#gAhw)"/><use href="#brAout" transform="translate(6.2,-2.8)" stroke="url(#gAwall)"/><use href="#brAh0" transform="translate(6.2,-2.8)" stroke="url(#gAhw)"/><use href="#brAh1" transform="translate(6.2,-2.8)" stroke="url(#gAhw)"/><use href="#brAout" transform="translate(7,-3.1)" stroke="url(#gAwall)"/><use href="#brAh0" transform="translate(7,-3.1)" stroke="url(#gAhw)"/><use href="#brAh1" transform="translate(7,-3.1)" stroke="url(#gAhw)"/><use href="#brAout" transform="translate(7.7,-3.4)" stroke="url(#gAwall)"/><use href="#brAh0" transform="translate(7.7,-3.4)" stroke="url(#gAhw)"/><use href="#brAh1" transform="translate(7.7,-3.4)" stroke="url(#gAhw)"/><use href="#brAout" transform="translate(8.5,-3.8)" stroke="url(#gAwall)"/><use href="#brAh0" transform="translate(8.5,-3.8)" stroke="url(#gAhw)"/><use href="#brAh1" transform="translate(8.5,-3.8)" stroke="url(#gAhw)"/><use href="#brAout" transform="translate(9.3,-4.1)" stroke="url(#gAwall)"/><use href="#brAh0" transform="translate(9.3,-4.1)" stroke="url(#gAhw)"/><use href="#brAh1" transform="translate(9.3,-4.1)" stroke="url(#gAhw)"/><use href="#brAout" transform="translate(10,-4.5)" stroke="url(#gAwall)"/><use href="#brAh0" transform="translate(10,-4.5)" stroke="url(#gAhw)"/><use href="#brAh1" transform="translate(10,-4.5)" stroke="url(#gAhw)"/><use href="#brAout" transform="translate(10.8,-4.8)" stroke="url(#gAwall)"/><use href="#brAh0" transform="translate(10.8,-4.8)" stroke="url(#gAhw)"/><use href="#brAh1" transform="translate(10.8,-4.8)" stroke="url(#gAhw)"/><use href="#brAout" transform="translate(11.6,-5.2)" stroke="url(#gAwall)"/><use href="#brAh0" transform="translate(11.6,-5.2)" stroke="url(#gAhw)"/><use href="#brAh1" transform="translate(11.6,-5.2)" stroke="url(#gAhw)"/><use href="#brAout" transform="translate(12.4,-5.5)" stroke="url(#gAwall)"/><use href="#brAh0" transform="translate(12.4,-5.5)" stroke="url(#gAhw)"/><use href="#brAh1" transform="translate(12.4,-5.5)" stroke="url(#gAhw)"/><use href="#brAout" transform="translate(13.1,-5.9)" stroke="url(#gAwall)"/><use href="#brAh0" transform="translate(13.1,-5.9)" stroke="url(#gAhw)"/><use href="#brAh1" transform="translate(13.1,-5.9)" stroke="url(#gAhw)"/><use href="#brAout" transform="translate(13.9,-6.2)" stroke="url(#gAwall)"/><use href="#brAh0" transform="translate(13.9,-6.2)" stroke="url(#gAhw)"/><use href="#brAh1" transform="translate(13.9,-6.2)" stroke="url(#gAhw)"/><use href="#brAout" transform="translate(14.7,-6.5)" stroke="url(#gAwall)"/><use href="#brAh0" transform="translate(14.7,-6.5)" stroke="url(#gAhw)"/><use href="#brAh1" transform="translate(14.7,-6.5)" stroke="url(#gAhw)"/><use href="#brAout" transform="translate(15.5,-6.9)" stroke="url(#gAwall)"/><use href="#brAh0" transform="translate(15.5,-6.9)" stroke="url(#gAhw)"/><use href="#brAh1" transform="translate(15.5,-6.9)" stroke="url(#gAhw)"/><use href="#brAout" transform="translate(16.2,-7.2)" stroke="url(#gAwall)"/><use href="#brAh0" transform="translate(16.2,-7.2)" stroke="url(#gAhw)"/><use href="#brAh1" transform="translate(16.2,-7.2)" stroke="url(#gAhw)"/><use href="#brAout" transform="translate(17,-7.6)" stroke="url(#gAwall)"/><use href="#brAh0" transform="translate(17,-7.6)" stroke="url(#gAhw)"/><use href="#brAh1" transform="translate(17,-7.6)" stroke="url(#gAhw)"/><use href="#brAout" transform="translate(17.8,-7.9)" stroke="url(#gAwall)"/><use href="#brAh0" transform="translate(17.8,-7.9)" stroke="url(#gAhw)"/><use href="#brAh1" transform="translate(17.8,-7.9)" stroke="url(#gAhw)"/><use href="#brAout" transform="translate(18.6,-8.3)" stroke="url(#gAwall)"/><use href="#brAh0" transform="translate(18.6,-8.3)" stroke="url(#gAhw)"/><use href="#brAh1" transform="translate(18.6,-8.3)" stroke="url(#gAhw)"/><use href="#brAout" transform="translate(19.3,-8.6)" stroke="url(#gAwall)"/><use href="#brAh0" transform="translate(19.3,-8.6)" stroke="url(#gAhw)"/><use href="#brAh1" transform="translate(19.3,-8.6)" stroke="url(#gAhw)"/><use href="#brAout" transform="translate(20.1,-9)" stroke="url(#gAwall)"/><use href="#brAh0" transform="translate(20.1,-9)" stroke="url(#gAhw)"/><use href="#brAh1" transform="translate(20.1,-9)" stroke="url(#gAhw)"/></g>
<polyline points="385.9,1162.3 409,1152" fill="none" stroke="#000" stroke-width="4" stroke-linejoin="round" stroke-linecap="round" />
<polyline points="900.5,1480.2 923.6,1469.9" fill="none" stroke="#000" stroke-width="4" stroke-linejoin="round" stroke-linecap="round" />
<polyline points="875.1,1510.9 898.2,1500.6" fill="none" stroke="#000" stroke-width="4" stroke-linejoin="round" stroke-linecap="round" />
<polyline points="900.2,1550.5 923.3,1540.2" fill="none" stroke="#000" stroke-width="4" stroke-linejoin="round" stroke-linecap="round" />
<polyline points="899,1578 922.1,1567.7" fill="none" stroke="#000" stroke-width="4" stroke-linejoin="round" stroke-linecap="round" />
<ellipse cx="853" cy="1490.5" rx="8" ry="3.2" fill="#E8B84A" stroke="#7A5A10" stroke-width="1"/>
<use href="#brAo" fill="url(#gA)" stroke="#000" stroke-width="4.2" stroke-linejoin="round"/>
<polygon points="875.1,1460.2 900.5,1480.2 900.5,1488.6 875.1,1497.6" fill="#76755E" stroke="#000" stroke-width="4" stroke-linejoin="round" />
<g transform="matrix(1 0.4 0 1 441.9 1226.1)"><circle r="33" fill="url(#gCs2)"/></g><clipPath id="cs444_1223"><path d="M463.5,1231 L463.3,1233.4 L462.9,1235.6 L462.1,1237.6 L461,1239.3 L459.7,1240.8 L458.1,1242 L456.2,1242.9 L454.2,1243.4 L452,1243.6 L449.7,1243.5 L447.3,1243 L444.9,1242.2 L442.5,1241.1 L440.1,1239.6 L437.8,1237.9 L435.6,1236 L433.6,1233.8 L431.7,1231.5 L430.1,1229 L428.8,1226.5 L427.7,1223.8 L426.9,1221.2 L426.5,1218.7 L426.3,1216.2 L426.5,1213.8 L426.9,1211.6 L427.7,1209.6 L428.8,1207.9 L430.1,1206.4 L431.7,1205.2 L433.6,1204.3 L435.6,1203.8 L437.8,1203.6 L440.1,1203.7 L442.5,1204.2 L444.9,1205 L447.3,1206.1 L449.7,1207.6 L452,1209.3 L454.2,1211.2 L456.2,1213.4 L458.1,1215.7 L459.7,1218.2 L461,1220.7 L462.1,1223.4 L462.9,1226 L463.3,1228.5 Z"/></clipPath><path d="M463.5,1231 L463.3,1233.4 L462.9,1235.6 L462.1,1237.6 L461,1239.3 L459.7,1240.8 L458.1,1242 L456.2,1242.9 L454.2,1243.4 L452,1243.6 L449.7,1243.5 L447.3,1243 L444.9,1242.2 L442.5,1241.1 L440.1,1239.6 L437.8,1237.9 L435.6,1236 L433.6,1233.8 L431.7,1231.5 L430.1,1229 L428.8,1226.5 L427.7,1223.8 L426.9,1221.2 L426.5,1218.7 L426.3,1216.2 L426.5,1213.8 L426.9,1211.6 L427.7,1209.6 L428.8,1207.9 L430.1,1206.4 L431.7,1205.2 L433.6,1204.3 L435.6,1203.8 L437.8,1203.6 L440.1,1203.7 L442.5,1204.2 L444.9,1205 L447.3,1206.1 L449.7,1207.6 L452,1209.3 L454.2,1211.2 L456.2,1213.4 L458.1,1215.7 L459.7,1218.2 L461,1220.7 L462.1,1223.4 L462.9,1226 L463.3,1228.5 Z" fill="#403F2B" stroke="#000" stroke-width="1.8"/><g clip-path="url(#cs444_1223)"><path d="M487.9,1221.9 L487.7,1224.4 L487.2,1226.7 L486.4,1228.8 L485.3,1230.6 L483.9,1232.2 L482.2,1233.4 L480.3,1234.3 L478.1,1234.9 L475.9,1235.1 L473.4,1235 L470.9,1234.5 L468.4,1233.6 L465.9,1232.4 L463.4,1230.9 L460.9,1229.1 L458.6,1227.1 L456.5,1224.8 L454.6,1222.4 L452.9,1219.8 L451.5,1217.1 L450.4,1214.4 L449.6,1211.6 L449.1,1208.9 L448.9,1206.3 L449.1,1203.8 L449.6,1201.5 L450.4,1199.4 L451.5,1197.6 L452.9,1196 L454.6,1194.8 L456.5,1193.9 L458.6,1193.3 L460.9,1193.1 L463.4,1193.2 L465.9,1193.7 L468.4,1194.6 L470.9,1195.8 L473.4,1197.3 L475.9,1199.1 L478.1,1201.1 L480.3,1203.4 L482.2,1205.8 L483.9,1208.4 L485.3,1211.1 L486.4,1213.8 L487.2,1216.6 L487.7,1219.3 Z" fill="#fff" stroke="#000" stroke-width="1.6"/></g>
<g transform="matrix(1 0.4 0 1 542.3 1267.6)"><circle r="33" fill="url(#gCs2)"/></g><clipPath id="cs545_1265"><path d="M563.9,1272.5 L563.7,1274.9 L563.3,1277.1 L562.5,1279.1 L561.4,1280.8 L560.1,1282.3 L558.5,1283.5 L556.6,1284.4 L554.6,1284.9 L552.4,1285.1 L550.1,1285 L547.7,1284.5 L545.3,1283.7 L542.9,1282.6 L540.5,1281.1 L538.2,1279.4 L536,1277.5 L534,1275.3 L532.1,1273 L530.5,1270.5 L529.2,1268 L528.1,1265.3 L527.3,1262.7 L526.9,1260.2 L526.7,1257.7 L526.9,1255.3 L527.3,1253.1 L528.1,1251.1 L529.2,1249.4 L530.5,1247.9 L532.1,1246.7 L534,1245.8 L536,1245.3 L538.2,1245.1 L540.5,1245.2 L542.9,1245.7 L545.3,1246.5 L547.7,1247.6 L550.1,1249.1 L552.4,1250.8 L554.6,1252.7 L556.6,1254.9 L558.5,1257.2 L560.1,1259.7 L561.4,1262.2 L562.5,1264.9 L563.3,1267.5 L563.7,1270 Z"/></clipPath><path d="M563.9,1272.5 L563.7,1274.9 L563.3,1277.1 L562.5,1279.1 L561.4,1280.8 L560.1,1282.3 L558.5,1283.5 L556.6,1284.4 L554.6,1284.9 L552.4,1285.1 L550.1,1285 L547.7,1284.5 L545.3,1283.7 L542.9,1282.6 L540.5,1281.1 L538.2,1279.4 L536,1277.5 L534,1275.3 L532.1,1273 L530.5,1270.5 L529.2,1268 L528.1,1265.3 L527.3,1262.7 L526.9,1260.2 L526.7,1257.7 L526.9,1255.3 L527.3,1253.1 L528.1,1251.1 L529.2,1249.4 L530.5,1247.9 L532.1,1246.7 L534,1245.8 L536,1245.3 L538.2,1245.1 L540.5,1245.2 L542.9,1245.7 L545.3,1246.5 L547.7,1247.6 L550.1,1249.1 L552.4,1250.8 L554.6,1252.7 L556.6,1254.9 L558.5,1257.2 L560.1,1259.7 L561.4,1262.2 L562.5,1264.9 L563.3,1267.5 L563.7,1270 Z" fill="#403F2B" stroke="#000" stroke-width="1.8"/><g clip-path="url(#cs545_1265)"><path d="M588.3,1263.4 L588.1,1265.9 L587.6,1268.2 L586.8,1270.3 L585.7,1272.1 L584.3,1273.7 L582.6,1274.9 L580.7,1275.8 L578.5,1276.4 L576.3,1276.6 L573.8,1276.5 L571.3,1276 L568.8,1275.1 L566.3,1273.9 L563.8,1272.4 L561.3,1270.6 L559,1268.6 L556.9,1266.3 L555,1263.9 L553.3,1261.3 L551.9,1258.6 L550.8,1255.9 L550,1253.1 L549.5,1250.4 L549.3,1247.8 L549.5,1245.3 L550,1243 L550.8,1240.9 L551.9,1239.1 L553.3,1237.5 L555,1236.3 L556.9,1235.4 L559,1234.8 L561.3,1234.6 L563.8,1234.7 L566.3,1235.2 L568.8,1236.1 L571.3,1237.3 L573.8,1238.8 L576.3,1240.6 L578.5,1242.6 L580.7,1244.9 L582.6,1247.3 L584.3,1249.9 L585.7,1252.6 L586.8,1255.3 L587.6,1258.1 L588.1,1260.8 Z" fill="#fff" stroke="#000" stroke-width="1.6"/></g>
<g transform="matrix(1 0.4 0 1 642.7 1308)"><circle r="33" fill="url(#gCs2)"/></g><clipPath id="cs645_1305"><path d="M664.3,1312.9 L664.1,1315.3 L663.7,1317.5 L662.9,1319.5 L661.8,1321.2 L660.5,1322.7 L658.9,1323.9 L657,1324.8 L655,1325.3 L652.8,1325.5 L650.5,1325.4 L648.1,1324.9 L645.7,1324.1 L643.3,1323 L640.9,1321.5 L638.6,1319.8 L636.4,1317.9 L634.4,1315.7 L632.5,1313.4 L630.9,1310.9 L629.6,1308.4 L628.5,1305.7 L627.7,1303.1 L627.3,1300.6 L627.1,1298.1 L627.3,1295.7 L627.7,1293.5 L628.5,1291.5 L629.6,1289.8 L630.9,1288.3 L632.5,1287.1 L634.4,1286.2 L636.4,1285.7 L638.6,1285.5 L640.9,1285.6 L643.3,1286.1 L645.7,1286.9 L648.1,1288 L650.5,1289.5 L652.8,1291.2 L655,1293.1 L657,1295.3 L658.9,1297.6 L660.5,1300.1 L661.8,1302.6 L662.9,1305.3 L663.7,1307.9 L664.1,1310.4 Z"/></clipPath><path d="M664.3,1312.9 L664.1,1315.3 L663.7,1317.5 L662.9,1319.5 L661.8,1321.2 L660.5,1322.7 L658.9,1323.9 L657,1324.8 L655,1325.3 L652.8,1325.5 L650.5,1325.4 L648.1,1324.9 L645.7,1324.1 L643.3,1323 L640.9,1321.5 L638.6,1319.8 L636.4,1317.9 L634.4,1315.7 L632.5,1313.4 L630.9,1310.9 L629.6,1308.4 L628.5,1305.7 L627.7,1303.1 L627.3,1300.6 L627.1,1298.1 L627.3,1295.7 L627.7,1293.5 L628.5,1291.5 L629.6,1289.8 L630.9,1288.3 L632.5,1287.1 L634.4,1286.2 L636.4,1285.7 L638.6,1285.5 L640.9,1285.6 L643.3,1286.1 L645.7,1286.9 L648.1,1288 L650.5,1289.5 L652.8,1291.2 L655,1293.1 L657,1295.3 L658.9,1297.6 L660.5,1300.1 L661.8,1302.6 L662.9,1305.3 L663.7,1307.9 L664.1,1310.4 Z" fill="#403F2B" stroke="#000" stroke-width="1.8"/><g clip-path="url(#cs645_1305)"><path d="M688.7,1303.8 L688.5,1306.3 L688,1308.6 L687.2,1310.7 L686.1,1312.5 L684.7,1314.1 L683,1315.3 L681.1,1316.2 L679,1316.8 L676.7,1317 L674.2,1316.9 L671.7,1316.4 L669.2,1315.5 L666.7,1314.3 L664.2,1312.8 L661.7,1311 L659.5,1309 L657.3,1306.7 L655.4,1304.3 L653.7,1301.7 L652.3,1299 L651.2,1296.3 L650.4,1293.5 L649.9,1290.8 L649.7,1288.2 L649.9,1285.7 L650.4,1283.4 L651.2,1281.3 L652.3,1279.5 L653.7,1277.9 L655.4,1276.7 L657.3,1275.8 L659.5,1275.2 L661.7,1275 L664.2,1275.1 L666.7,1275.6 L669.2,1276.5 L671.7,1277.7 L674.2,1279.2 L676.7,1281 L679,1283 L681.1,1285.3 L683,1287.7 L684.7,1290.3 L686.1,1293 L687.2,1295.7 L688,1298.5 L688.5,1301.2 Z" fill="#fff" stroke="#000" stroke-width="1.6"/></g>
<g transform="matrix(1 0.4 0 1 441.9 1435.6)"><circle r="33" fill="url(#gCs2)"/></g><clipPath id="cs444_1433"><path d="M463.5,1440.5 L463.3,1442.9 L462.9,1445.1 L462.1,1447.1 L461,1448.8 L459.7,1450.3 L458.1,1451.5 L456.2,1452.4 L454.2,1452.9 L452,1453.1 L449.7,1453 L447.3,1452.5 L444.9,1451.7 L442.5,1450.6 L440.1,1449.1 L437.8,1447.4 L435.6,1445.5 L433.6,1443.3 L431.7,1441 L430.1,1438.5 L428.8,1436 L427.7,1433.3 L426.9,1430.7 L426.5,1428.2 L426.3,1425.7 L426.5,1423.3 L426.9,1421.1 L427.7,1419.1 L428.8,1417.4 L430.1,1415.9 L431.7,1414.7 L433.6,1413.8 L435.6,1413.3 L437.8,1413.1 L440.1,1413.2 L442.5,1413.7 L444.9,1414.5 L447.3,1415.6 L449.7,1417.1 L452,1418.8 L454.2,1420.7 L456.2,1422.9 L458.1,1425.2 L459.7,1427.7 L461,1430.2 L462.1,1432.9 L462.9,1435.5 L463.3,1438 Z"/></clipPath><path d="M463.5,1440.5 L463.3,1442.9 L462.9,1445.1 L462.1,1447.1 L461,1448.8 L459.7,1450.3 L458.1,1451.5 L456.2,1452.4 L454.2,1452.9 L452,1453.1 L449.7,1453 L447.3,1452.5 L444.9,1451.7 L442.5,1450.6 L440.1,1449.1 L437.8,1447.4 L435.6,1445.5 L433.6,1443.3 L431.7,1441 L430.1,1438.5 L428.8,1436 L427.7,1433.3 L426.9,1430.7 L426.5,1428.2 L426.3,1425.7 L426.5,1423.3 L426.9,1421.1 L427.7,1419.1 L428.8,1417.4 L430.1,1415.9 L431.7,1414.7 L433.6,1413.8 L435.6,1413.3 L437.8,1413.1 L440.1,1413.2 L442.5,1413.7 L444.9,1414.5 L447.3,1415.6 L449.7,1417.1 L452,1418.8 L454.2,1420.7 L456.2,1422.9 L458.1,1425.2 L459.7,1427.7 L461,1430.2 L462.1,1432.9 L462.9,1435.5 L463.3,1438 Z" fill="#403F2B" stroke="#000" stroke-width="1.8"/><g clip-path="url(#cs444_1433)"><path d="M487.9,1431.4 L487.7,1433.9 L487.2,1436.2 L486.4,1438.3 L485.3,1440.1 L483.9,1441.7 L482.2,1442.9 L480.3,1443.8 L478.1,1444.4 L475.9,1444.6 L473.4,1444.5 L470.9,1444 L468.4,1443.1 L465.9,1441.9 L463.4,1440.4 L460.9,1438.6 L458.6,1436.6 L456.5,1434.3 L454.6,1431.9 L452.9,1429.3 L451.5,1426.6 L450.4,1423.9 L449.6,1421.1 L449.1,1418.4 L448.9,1415.8 L449.1,1413.3 L449.6,1411 L450.4,1408.9 L451.5,1407.1 L452.9,1405.5 L454.6,1404.3 L456.5,1403.4 L458.6,1402.8 L460.9,1402.6 L463.4,1402.7 L465.9,1403.2 L468.4,1404.1 L470.9,1405.3 L473.4,1406.8 L475.9,1408.6 L478.1,1410.6 L480.3,1412.9 L482.2,1415.3 L483.9,1417.9 L485.3,1420.6 L486.4,1423.3 L487.2,1426.1 L487.7,1428.8 Z" fill="#fff" stroke="#000" stroke-width="1.6"/></g>
<g transform="matrix(1 0.4 0 1 542.3 1477.1)"><circle r="33" fill="url(#gCs2)"/></g><clipPath id="cs545_1474"><path d="M563.9,1482 L563.7,1484.4 L563.3,1486.6 L562.5,1488.6 L561.4,1490.3 L560.1,1491.8 L558.5,1493 L556.6,1493.9 L554.6,1494.4 L552.4,1494.6 L550.1,1494.5 L547.7,1494 L545.3,1493.2 L542.9,1492.1 L540.5,1490.6 L538.2,1488.9 L536,1487 L534,1484.8 L532.1,1482.5 L530.5,1480 L529.2,1477.5 L528.1,1474.8 L527.3,1472.2 L526.9,1469.7 L526.7,1467.2 L526.9,1464.8 L527.3,1462.6 L528.1,1460.6 L529.2,1458.9 L530.5,1457.4 L532.1,1456.2 L534,1455.3 L536,1454.8 L538.2,1454.6 L540.5,1454.7 L542.9,1455.2 L545.3,1456 L547.7,1457.1 L550.1,1458.6 L552.4,1460.3 L554.6,1462.2 L556.6,1464.4 L558.5,1466.7 L560.1,1469.2 L561.4,1471.7 L562.5,1474.4 L563.3,1477 L563.7,1479.5 Z"/></clipPath><path d="M563.9,1482 L563.7,1484.4 L563.3,1486.6 L562.5,1488.6 L561.4,1490.3 L560.1,1491.8 L558.5,1493 L556.6,1493.9 L554.6,1494.4 L552.4,1494.6 L550.1,1494.5 L547.7,1494 L545.3,1493.2 L542.9,1492.1 L540.5,1490.6 L538.2,1488.9 L536,1487 L534,1484.8 L532.1,1482.5 L530.5,1480 L529.2,1477.5 L528.1,1474.8 L527.3,1472.2 L526.9,1469.7 L526.7,1467.2 L526.9,1464.8 L527.3,1462.6 L528.1,1460.6 L529.2,1458.9 L530.5,1457.4 L532.1,1456.2 L534,1455.3 L536,1454.8 L538.2,1454.6 L540.5,1454.7 L542.9,1455.2 L545.3,1456 L547.7,1457.1 L550.1,1458.6 L552.4,1460.3 L554.6,1462.2 L556.6,1464.4 L558.5,1466.7 L560.1,1469.2 L561.4,1471.7 L562.5,1474.4 L563.3,1477 L563.7,1479.5 Z" fill="#403F2B" stroke="#000" stroke-width="1.8"/><g clip-path="url(#cs545_1474)"><path d="M588.3,1472.9 L588.1,1475.4 L587.6,1477.7 L586.8,1479.8 L585.7,1481.6 L584.3,1483.2 L582.6,1484.4 L580.7,1485.3 L578.5,1485.9 L576.3,1486.1 L573.8,1486 L571.3,1485.5 L568.8,1484.6 L566.3,1483.4 L563.8,1481.9 L561.3,1480.1 L559,1478.1 L556.9,1475.8 L555,1473.4 L553.3,1470.8 L551.9,1468.1 L550.8,1465.4 L550,1462.6 L549.5,1459.9 L549.3,1457.3 L549.5,1454.8 L550,1452.5 L550.8,1450.4 L551.9,1448.6 L553.3,1447 L555,1445.8 L556.9,1444.9 L559,1444.3 L561.3,1444.1 L563.8,1444.2 L566.3,1444.7 L568.8,1445.6 L571.3,1446.8 L573.8,1448.3 L576.3,1450.1 L578.5,1452.1 L580.7,1454.4 L582.6,1456.8 L584.3,1459.4 L585.7,1462.1 L586.8,1464.8 L587.6,1467.6 L588.1,1470.3 Z" fill="#fff" stroke="#000" stroke-width="1.6"/></g>
<g transform="matrix(1 0.4 0 1 642.7 1517.5)"><circle r="33" fill="url(#gCs2)"/></g><clipPath id="cs645_1515"><path d="M664.3,1522.4 L664.1,1524.8 L663.7,1527 L662.9,1529 L661.8,1530.7 L660.5,1532.2 L658.9,1533.4 L657,1534.3 L655,1534.8 L652.8,1535 L650.5,1534.9 L648.1,1534.4 L645.7,1533.6 L643.3,1532.5 L640.9,1531 L638.6,1529.3 L636.4,1527.4 L634.4,1525.2 L632.5,1522.9 L630.9,1520.4 L629.6,1517.9 L628.5,1515.2 L627.7,1512.6 L627.3,1510.1 L627.1,1507.6 L627.3,1505.2 L627.7,1503 L628.5,1501 L629.6,1499.3 L630.9,1497.8 L632.5,1496.6 L634.4,1495.7 L636.4,1495.2 L638.6,1495 L640.9,1495.1 L643.3,1495.6 L645.7,1496.4 L648.1,1497.5 L650.5,1499 L652.8,1500.7 L655,1502.6 L657,1504.8 L658.9,1507.1 L660.5,1509.6 L661.8,1512.1 L662.9,1514.8 L663.7,1517.4 L664.1,1519.9 Z"/></clipPath><path d="M664.3,1522.4 L664.1,1524.8 L663.7,1527 L662.9,1529 L661.8,1530.7 L660.5,1532.2 L658.9,1533.4 L657,1534.3 L655,1534.8 L652.8,1535 L650.5,1534.9 L648.1,1534.4 L645.7,1533.6 L643.3,1532.5 L640.9,1531 L638.6,1529.3 L636.4,1527.4 L634.4,1525.2 L632.5,1522.9 L630.9,1520.4 L629.6,1517.9 L628.5,1515.2 L627.7,1512.6 L627.3,1510.1 L627.1,1507.6 L627.3,1505.2 L627.7,1503 L628.5,1501 L629.6,1499.3 L630.9,1497.8 L632.5,1496.6 L634.4,1495.7 L636.4,1495.2 L638.6,1495 L640.9,1495.1 L643.3,1495.6 L645.7,1496.4 L648.1,1497.5 L650.5,1499 L652.8,1500.7 L655,1502.6 L657,1504.8 L658.9,1507.1 L660.5,1509.6 L661.8,1512.1 L662.9,1514.8 L663.7,1517.4 L664.1,1519.9 Z" fill="#403F2B" stroke="#000" stroke-width="1.8"/><g clip-path="url(#cs645_1515)"><path d="M688.7,1513.3 L688.5,1515.8 L688,1518.1 L687.2,1520.2 L686.1,1522 L684.7,1523.6 L683,1524.8 L681.1,1525.7 L679,1526.3 L676.7,1526.5 L674.2,1526.4 L671.7,1525.9 L669.2,1525 L666.7,1523.8 L664.2,1522.3 L661.7,1520.5 L659.5,1518.5 L657.3,1516.2 L655.4,1513.8 L653.7,1511.2 L652.3,1508.5 L651.2,1505.8 L650.4,1503 L649.9,1500.3 L649.7,1497.7 L649.9,1495.2 L650.4,1492.9 L651.2,1490.8 L652.3,1489 L653.7,1487.4 L655.4,1486.2 L657.3,1485.3 L659.5,1484.7 L661.7,1484.5 L664.2,1484.6 L666.7,1485.1 L669.2,1486 L671.7,1487.2 L674.2,1488.7 L676.7,1490.5 L679,1492.5 L681.1,1494.8 L683,1497.2 L684.7,1499.8 L686.1,1502.5 L687.2,1505.2 L688,1508 L688.5,1510.7 Z" fill="#fff" stroke="#000" stroke-width="1.6"/></g>
<g transform="translate(852.8,1408.6)"><path d="M-12,0 L-12,4.2 A12,5 0 0 0 12,4.2 L12,0 Z" fill="#D9A233" stroke="#5A400A" stroke-width="1.2"/><ellipse cx="0" cy="0" rx="12" ry="5" fill="#EBC262" stroke="#5A400A" stroke-width="1.2"/><path d="M-8,-1.5 L8,1.5 M-5,2.6 L5,-2.6" stroke="#7A5A10" stroke-width="1.6" fill="none"/></g>
</g>
<rect x="642.2" y="1019.8" width="349.3" height="128.6" fill="#FFFFB3" stroke="#000" stroke-width="3.6" stroke-linejoin="round"/>
<text x="664.3" y="1070.7" font-size="37.4" textLength="296.6" lengthAdjust="spacingAndGlyphs">DEVICE MOUNTS</text>
<text x="664.3" y="1120.7" font-size="37.4" textLength="261.5" lengthAdjust="spacingAndGlyphs">TO BOW RISER</text>
<polyline points="332.6,56 286.8,56 182.8,104" fill="none" stroke="#000" stroke-width="2.2" stroke-linejoin="round" stroke-linecap="round" />
<circle cx="358.5" cy="56" r="25.5" fill="#fff" stroke="#000" stroke-width="2.6"/><text x="358.5" y="69" font-size="37" text-anchor="middle" textLength="38" lengthAdjust="spacingAndGlyphs">10</text>
<polyline points="171,381 189.8,381 168,260" fill="none" stroke="#000" stroke-width="2.2" stroke-linejoin="round" stroke-linecap="round" />
<circle cx="147.6" cy="381" r="24" fill="#fff" stroke="#000" stroke-width="2.6"/><text x="147.6" y="393.9" font-size="37" text-anchor="middle">3</text>
<polyline points="316.5,428.6 276,428.6 243,477.5" fill="none" stroke="#000" stroke-width="2.2" stroke-linejoin="round" stroke-linecap="round" />
<circle cx="340.5" cy="429" r="24" fill="#fff" stroke="#000" stroke-width="2.6"/><text x="340.5" y="441.9" font-size="37" text-anchor="middle">4</text>
<polyline points="1005.3,124.6 960.3,124.6 914.2,198" fill="none" stroke="#000" stroke-width="2.2" stroke-linejoin="round" stroke-linecap="round" />
<circle cx="1029.4" cy="124.6" r="24" fill="#fff" stroke="#000" stroke-width="2.6"/><text x="1029.4" y="137.5" font-size="37" text-anchor="middle">5</text>
<polyline points="109.6,822.5 144.3,822.5 235.4,673.7" fill="none" stroke="#000" stroke-width="2.2" stroke-linejoin="round" stroke-linecap="round" />
<circle cx="85.3" cy="822.5" r="24" fill="#fff" stroke="#000" stroke-width="2.6"/><text x="85.3" y="835.5" font-size="37" text-anchor="middle">7</text>
<polyline points="151,1105.6 173.4,1105.6 252,932" fill="none" stroke="#000" stroke-width="2.2" stroke-linejoin="round" stroke-linecap="round" />
<circle cx="126.6" cy="1105.6" r="24" fill="#fff" stroke="#000" stroke-width="2.6"/><text x="126.6" y="1118.5" font-size="37" text-anchor="middle">6</text>
<polyline points="513.4,1110 543.4,1110 593,1268.6" fill="none" stroke="#000" stroke-width="2.2" stroke-linejoin="round" stroke-linecap="round" />
<circle cx="489.4" cy="1110" r="24" fill="#FFFFB3" stroke="#000" stroke-width="2.6"/><text x="489.4" y="1123" font-size="37" text-anchor="middle">1</text>
<polyline points="805.5,1264.1 828,1264.1 856.7,1401.2" fill="none" stroke="#000" stroke-width="2.2" stroke-linejoin="round" stroke-linecap="round" />
<circle cx="781.4" cy="1264.1" r="24" fill="#FFFFB3" stroke="#000" stroke-width="2.6"/><text x="781.4" y="1277" font-size="37" text-anchor="middle">8</text>
<polyline points="1089,1281.2 1118.5,1281.2 1169.1,1360.7" fill="none" stroke="#000" stroke-width="2.2" stroke-linejoin="round" stroke-linecap="round" />
<circle cx="1065.1" cy="1281.2" r="24" fill="#FFFFB3" stroke="#000" stroke-width="2.6"/><text x="1065.1" y="1294.2" font-size="37" text-anchor="middle">2</text>
<polyline points="1272,1171 1272,1240 1328,1353.7" fill="none" stroke="#000" stroke-width="2.2" stroke-linejoin="round" stroke-linecap="round" />
<circle cx="1272" cy="1147" r="24" fill="#FFFFB3" stroke="#000" stroke-width="2.6"/><text x="1272" y="1160" font-size="37" text-anchor="middle">9</text>

</svg>
</body></html>
